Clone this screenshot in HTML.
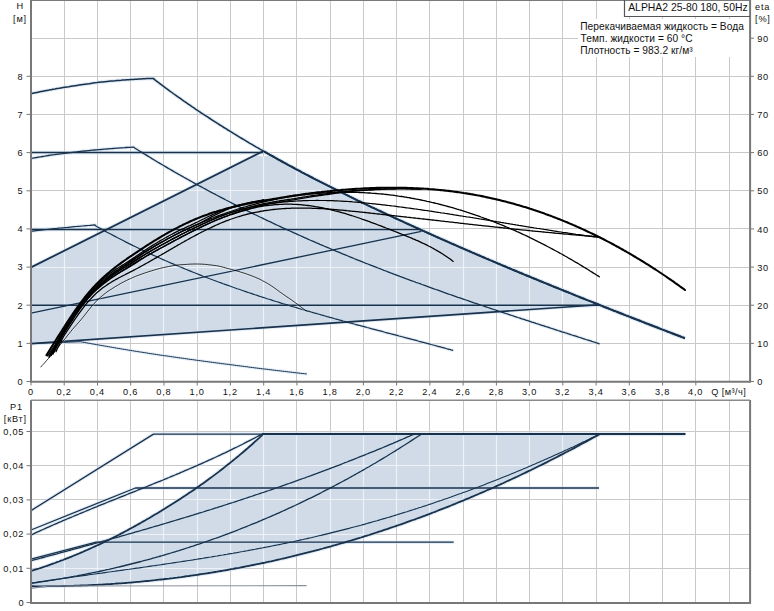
<!DOCTYPE html>
<html><head><meta charset="utf-8"><style>
html,body{margin:0;padding:0;background:#fff;width:774px;height:611px;overflow:hidden;}
body{position:relative;font-family:"Liberation Sans",sans-serif;}
text{font-family:"Liberation Sans",sans-serif;}
</style></head><body>
<svg width="774" height="611" viewBox="0 0 774 611" style="position:absolute;left:0;top:0">
<defs>
<clipPath id="cu"><path d="M31 267.6 L256 155.6 L263.3 156.6 L270 155.4 L273.9 157 L275.9 158.2 L277.9 159.3 L279.9 160.4 L281.9 161.5 L283.9 162.6 L285.9 163.7 L287.9 164.8 L289.9 165.8 L291.9 166.9 L293.9 168 L295.9 169.1 L297.9 170.1 L299.9 171.2 L301.9 172.3 L303.9 173.3 L305.9 174.4 L307.9 175.4 L309.9 176.5 L311.9 177.5 L313.9 178.6 L315.9 179.6 L317.9 180.6 L319.9 181.7 L321.9 182.7 L323.9 183.7 L325.9 184.7 L327.9 185.7 L329.9 186.7 L331.9 187.7 L333.9 188.7 L335.9 189.7 L337.9 190.7 L339.9 191.7 L341.9 192.7 L343.9 193.7 L345.9 194.7 L347.9 195.7 L349.9 196.7 L351.9 197.6 L353.9 198.6 L355.9 199.6 L357.9 200.6 L359.9 201.5 L361.9 202.5 L363.9 203.4 L365.9 204.4 L367.9 205.4 L369.9 206.3 L371.9 207.3 L373.9 208.2 L375.9 209.1 L377.9 210.1 L379.9 211 L381.9 212 L383.9 212.9 L385.9 213.8 L387.9 214.8 L389.9 215.7 L391.9 216.6 L393.9 217.6 L395.9 218.5 L397.9 219.4 L399.9 220.3 L401.9 221.2 L403.9 222.2 L405.9 223.1 L407.9 224 L409.9 224.9 L411.9 225.8 L413.9 226.7 L415.9 227.6 L417.9 228.5 L419.9 229.4 L421.9 230.3 L423.9 231.2 L425.9 232.1 L427.9 233 L429.9 233.9 L431.9 234.8 L433.9 235.7 L435.9 236.6 L437.9 237.5 L439.9 238.4 L441.9 239.3 L443.9 240.1 L445.9 241 L447.9 241.9 L449.9 242.8 L451.9 243.7 L453.9 244.5 L455.9 245.4 L457.9 246.3 L459.9 247.2 L461.9 248 L463.9 248.9 L465.9 249.8 L467.9 250.6 L469.9 251.5 L471.9 252.4 L473.9 253.2 L475.9 254.1 L477.9 255 L479.9 255.8 L481.9 256.7 L483.9 257.5 L485.9 258.4 L487.9 259.2 L489.9 260.1 L491.9 260.9 L493.9 261.8 L495.9 262.6 L497.9 263.5 L499.9 264.3 L501.9 265.2 L503.9 266 L505.9 266.8 L507.9 267.7 L509.9 268.5 L511.9 269.4 L513.9 270.2 L515.9 271 L517.9 271.9 L519.9 272.7 L521.9 273.5 L523.9 274.4 L525.9 275.2 L527.9 276 L529.9 276.8 L531.9 277.7 L533.9 278.5 L535.9 279.3 L537.9 280.1 L539.9 281 L541.9 281.8 L543.9 282.6 L545.9 283.4 L547.9 284.2 L549.9 285 L551.9 285.9 L553.9 286.7 L555.9 287.5 L557.9 288.3 L559.9 289.1 L561.9 289.9 L563.9 290.7 L565.9 291.5 L567.9 292.3 L569.9 293.1 L571.9 293.9 L573.9 294.8 L575.9 295.6 L577.9 296.4 L579.9 297.2 L581.9 298 L583.9 298.8 L585.9 299.6 L587.9 300.4 L589.9 301.1 L591.9 301.9 L593.9 302.7 L595.9 303.5 L597.9 304.3 L31 343.6 Z"/></clipPath>
<clipPath id="cl"><path d="M31 571 L33 570.4 L35 569.7 L37 569.1 L39 568.5 L41 567.8 L43 567.2 L45 566.5 L47 565.8 L49 565.1 L51 564.4 L53 563.7 L55 563 L57 562.2 L59 561.5 L61 560.7 L63 560 L65 559.2 L67 558.4 L69 557.6 L71 556.8 L73 556 L75 555.2 L77 554.3 L79 553.5 L81 552.6 L83 551.8 L85 550.9 L87 550 L89 549.1 L91 548.2 L93 547.3 L95 546.4 L97 545.5 L99 544.6 L101 543.6 L103 542.7 L105 541.7 L107 540.7 L109 539.7 L111 538.7 L113 537.7 L115 536.7 L117 535.7 L119 534.7 L121 533.6 L123 532.6 L125 531.5 L127 530.5 L129 529.4 L131 528.3 L133 527.2 L135 526.1 L137 525 L139 523.9 L141 522.8 L143 521.6 L145 520.5 L147 519.3 L149 518.2 L151 517 L153 515.8 L155 514.6 L157 513.4 L159 512.2 L161 511 L163 509.8 L165 508.6 L167 507.3 L169 506.1 L171 504.8 L173 503.6 L175 502.3 L177 501 L179 499.7 L181 498.4 L183 497.1 L185 495.8 L187 494.4 L189 493.1 L191 491.8 L193 490.4 L195 489 L197 487.6 L199 486.2 L201 484.8 L203 483.4 L205 482 L207 480.5 L209 479 L211 477.6 L213 476.1 L215 474.6 L217 473.1 L219 471.6 L221 470 L223 468.5 L225 466.9 L227 465.3 L229 463.7 L231 462.1 L233 460.5 L235 458.9 L237 457.2 L239 455.6 L241 453.9 L243 452.2 L245 450.5 L247 448.8 L249 447 L251 445.3 L253 443.5 L255 441.7 L257 439.9 L259 438.1 L261 436.2 L262.5 434.8 L599.5 434.5 L599.5 434.2 L599 434.5 L597 435.6 L595 436.7 L593 437.8 L591 438.9 L589 440 L587 441.1 L585 442.2 L583 443.3 L581 444.3 L579 445.4 L577 446.5 L575 447.6 L573 448.6 L571 449.7 L569 450.7 L567 451.8 L565 452.8 L563 453.9 L561 454.9 L559 455.9 L557 457 L555 458 L553 459 L551 460 L549 461 L547 462.1 L545 463.1 L543 464.1 L541 465.1 L539 466 L537 467 L535 468 L533 469 L531 470 L529 470.9 L527 471.9 L525 472.9 L523 473.8 L521 474.8 L519 475.7 L517 476.7 L515 477.6 L513 478.5 L511 479.5 L509 480.4 L507 481.3 L505 482.2 L503 483.2 L501 484.1 L499 485 L497 485.9 L495 486.8 L493 487.7 L491 488.6 L489 489.4 L487 490.3 L485 491.2 L483 492.1 L481 492.9 L479 493.8 L477 494.7 L475 495.5 L473 496.4 L471 497.2 L469 498.1 L467 498.9 L465 499.7 L463 500.6 L461 501.4 L459 502.2 L457 503 L455 503.9 L453 504.7 L451 505.5 L449 506.3 L447 507.1 L445 507.9 L443 508.6 L441 509.4 L439 510.2 L437 511 L435 511.8 L433 512.5 L431 513.3 L429 514.1 L427 514.8 L425 515.6 L423 516.3 L421 517.1 L419 517.8 L417 518.5 L415 519.3 L413 520 L411 520.7 L409 521.4 L407 522.1 L405 522.9 L403 523.6 L401 524.3 L399 525 L397 525.7 L395 526.4 L393 527 L391 527.7 L389 528.4 L387 529.1 L385 529.7 L383 530.4 L381 531.1 L379 531.7 L377 532.4 L375 533 L373 533.7 L371 534.3 L369 535 L367 535.6 L365 536.2 L363 536.8 L361 537.5 L359 538.1 L357 538.7 L355 539.3 L353 539.9 L351 540.5 L349 541.1 L347 541.7 L345 542.3 L343 542.9 L341 543.4 L339 544 L337 544.6 L335 545.2 L333 545.7 L331 546.3 L329 546.8 L327 547.4 L325 547.9 L323 548.5 L321 549 L319 549.6 L317 550.1 L315 550.6 L313 551.2 L311 551.7 L309 552.2 L307 552.7 L305 553.2 L303 553.7 L301 554.2 L299 554.7 L297 555.2 L295 555.7 L293 556.2 L291 556.7 L289 557.1 L287 557.6 L285 558.1 L283 558.5 L281 559 L279 559.5 L277 559.9 L275 560.4 L273 560.8 L271 561.3 L269 561.7 L267 562.1 L265 562.6 L263 563 L261 563.4 L259 563.8 L257 564.2 L255 564.6 L253 565 L251 565.4 L249 565.8 L247 566.2 L245 566.6 L243 567 L241 567.4 L239 567.8 L237 568.1 L235 568.5 L233 568.9 L231 569.2 L229 569.6 L227 570 L225 570.3 L223 570.7 L221 571 L219 571.3 L217 571.7 L215 572 L213 572.3 L211 572.7 L209 573 L207 573.3 L205 573.6 L203 573.9 L201 574.2 L199 574.5 L197 574.8 L195 575.1 L193 575.4 L191 575.7 L189 576 L187 576.2 L185 576.5 L183 576.8 L181 577.1 L179 577.3 L177 577.6 L175 577.8 L173 578.1 L171 578.3 L169 578.6 L167 578.8 L165 579 L163 579.3 L161 579.5 L159 579.7 L157 579.9 L155 580.2 L153 580.4 L151 580.6 L149 580.8 L147 581 L145 581.2 L143 581.4 L141 581.6 L139 581.8 L137 581.9 L135 582.1 L133 582.3 L131 582.5 L129 582.6 L127 582.8 L125 583 L123 583.1 L121 583.3 L119 583.4 L117 583.5 L115 583.7 L113 583.8 L111 584 L109 584.1 L107 584.2 L105 584.3 L103 584.5 L101 584.6 L99 584.7 L97 584.8 L95 584.9 L93 585 L91 585.1 L89 585.2 L87 585.3 L85 585.3 L83 585.4 L81 585.5 L79 585.6 L77 585.6 L75 585.7 L73 585.8 L71 585.8 L69 585.9 L67 585.9 L65 586 L63 586 L61 586.1 L59 586.1 L57 586.1 L55 586.2 L53 586.2 L51 586.2 L49 586.2 L47 586.2 L45 586.3 L43 586.3 L41 586.3 L39 586.3 L37 586.3 L35 586.3 L33 586.2 L31 586.2 Z"/></clipPath>
</defs>
<rect width="774" height="611" fill="#fff"/>
<path d="M64.5 1V381 M97.5 1V381 M130.5 1V381 M163.5 1V381 M197.5 1V381 M230.5 1V381 M263.5 1V381 M296.5 1V381 M330.5 1V381 M363.5 1V381 M396.5 1V381 M429.5 1V381 M463.5 1V381 M496.5 1V381 M529.5 1V381 M562.5 1V381 M596.5 1V381 M629.5 1V381 M662.5 1V381 M695.5 1V381 M729.5 1V381 M32 343.5H749 M32 305.5H749 M32 267.5H749 M32 228.5H749 M32 190.5H749 M32 152.5H749 M32 114.5H749 M32 76.5H749 M32 38.5H749 M64.5 401V602 M97.5 401V602 M130.5 401V602 M163.5 401V602 M197.5 401V602 M230.5 401V602 M263.5 401V602 M296.5 401V602 M330.5 401V602 M363.5 401V602 M396.5 401V602 M429.5 401V602 M463.5 401V602 M496.5 401V602 M529.5 401V602 M562.5 401V602 M596.5 401V602 M629.5 401V602 M662.5 401V602 M695.5 401V602 M729.5 401V602 M32 568.5H749 M32 534.5H749 M32 499.5H749 M32 465.5H749 M32 431.5H749" stroke="#c9c9c9" stroke-width="1" fill="none"/>
<path d="M31 267.6 L256 155.6 L263.3 156.6 L270 155.4 L273.9 157 L275.9 158.2 L277.9 159.3 L279.9 160.4 L281.9 161.5 L283.9 162.6 L285.9 163.7 L287.9 164.8 L289.9 165.8 L291.9 166.9 L293.9 168 L295.9 169.1 L297.9 170.1 L299.9 171.2 L301.9 172.3 L303.9 173.3 L305.9 174.4 L307.9 175.4 L309.9 176.5 L311.9 177.5 L313.9 178.6 L315.9 179.6 L317.9 180.6 L319.9 181.7 L321.9 182.7 L323.9 183.7 L325.9 184.7 L327.9 185.7 L329.9 186.7 L331.9 187.7 L333.9 188.7 L335.9 189.7 L337.9 190.7 L339.9 191.7 L341.9 192.7 L343.9 193.7 L345.9 194.7 L347.9 195.7 L349.9 196.7 L351.9 197.6 L353.9 198.6 L355.9 199.6 L357.9 200.6 L359.9 201.5 L361.9 202.5 L363.9 203.4 L365.9 204.4 L367.9 205.4 L369.9 206.3 L371.9 207.3 L373.9 208.2 L375.9 209.1 L377.9 210.1 L379.9 211 L381.9 212 L383.9 212.9 L385.9 213.8 L387.9 214.8 L389.9 215.7 L391.9 216.6 L393.9 217.6 L395.9 218.5 L397.9 219.4 L399.9 220.3 L401.9 221.2 L403.9 222.2 L405.9 223.1 L407.9 224 L409.9 224.9 L411.9 225.8 L413.9 226.7 L415.9 227.6 L417.9 228.5 L419.9 229.4 L421.9 230.3 L423.9 231.2 L425.9 232.1 L427.9 233 L429.9 233.9 L431.9 234.8 L433.9 235.7 L435.9 236.6 L437.9 237.5 L439.9 238.4 L441.9 239.3 L443.9 240.1 L445.9 241 L447.9 241.9 L449.9 242.8 L451.9 243.7 L453.9 244.5 L455.9 245.4 L457.9 246.3 L459.9 247.2 L461.9 248 L463.9 248.9 L465.9 249.8 L467.9 250.6 L469.9 251.5 L471.9 252.4 L473.9 253.2 L475.9 254.1 L477.9 255 L479.9 255.8 L481.9 256.7 L483.9 257.5 L485.9 258.4 L487.9 259.2 L489.9 260.1 L491.9 260.9 L493.9 261.8 L495.9 262.6 L497.9 263.5 L499.9 264.3 L501.9 265.2 L503.9 266 L505.9 266.8 L507.9 267.7 L509.9 268.5 L511.9 269.4 L513.9 270.2 L515.9 271 L517.9 271.9 L519.9 272.7 L521.9 273.5 L523.9 274.4 L525.9 275.2 L527.9 276 L529.9 276.8 L531.9 277.7 L533.9 278.5 L535.9 279.3 L537.9 280.1 L539.9 281 L541.9 281.8 L543.9 282.6 L545.9 283.4 L547.9 284.2 L549.9 285 L551.9 285.9 L553.9 286.7 L555.9 287.5 L557.9 288.3 L559.9 289.1 L561.9 289.9 L563.9 290.7 L565.9 291.5 L567.9 292.3 L569.9 293.1 L571.9 293.9 L573.9 294.8 L575.9 295.6 L577.9 296.4 L579.9 297.2 L581.9 298 L583.9 298.8 L585.9 299.6 L587.9 300.4 L589.9 301.1 L591.9 301.9 L593.9 302.7 L595.9 303.5 L597.9 304.3 L31 343.6 Z" fill="#d0dbe7"/>
<path d="M31 571 L33 570.4 L35 569.7 L37 569.1 L39 568.5 L41 567.8 L43 567.2 L45 566.5 L47 565.8 L49 565.1 L51 564.4 L53 563.7 L55 563 L57 562.2 L59 561.5 L61 560.7 L63 560 L65 559.2 L67 558.4 L69 557.6 L71 556.8 L73 556 L75 555.2 L77 554.3 L79 553.5 L81 552.6 L83 551.8 L85 550.9 L87 550 L89 549.1 L91 548.2 L93 547.3 L95 546.4 L97 545.5 L99 544.6 L101 543.6 L103 542.7 L105 541.7 L107 540.7 L109 539.7 L111 538.7 L113 537.7 L115 536.7 L117 535.7 L119 534.7 L121 533.6 L123 532.6 L125 531.5 L127 530.5 L129 529.4 L131 528.3 L133 527.2 L135 526.1 L137 525 L139 523.9 L141 522.8 L143 521.6 L145 520.5 L147 519.3 L149 518.2 L151 517 L153 515.8 L155 514.6 L157 513.4 L159 512.2 L161 511 L163 509.8 L165 508.6 L167 507.3 L169 506.1 L171 504.8 L173 503.6 L175 502.3 L177 501 L179 499.7 L181 498.4 L183 497.1 L185 495.8 L187 494.4 L189 493.1 L191 491.8 L193 490.4 L195 489 L197 487.6 L199 486.2 L201 484.8 L203 483.4 L205 482 L207 480.5 L209 479 L211 477.6 L213 476.1 L215 474.6 L217 473.1 L219 471.6 L221 470 L223 468.5 L225 466.9 L227 465.3 L229 463.7 L231 462.1 L233 460.5 L235 458.9 L237 457.2 L239 455.6 L241 453.9 L243 452.2 L245 450.5 L247 448.8 L249 447 L251 445.3 L253 443.5 L255 441.7 L257 439.9 L259 438.1 L261 436.2 L262.5 434.8 L599.5 434.5 L599.5 434.2 L599 434.5 L597 435.6 L595 436.7 L593 437.8 L591 438.9 L589 440 L587 441.1 L585 442.2 L583 443.3 L581 444.3 L579 445.4 L577 446.5 L575 447.6 L573 448.6 L571 449.7 L569 450.7 L567 451.8 L565 452.8 L563 453.9 L561 454.9 L559 455.9 L557 457 L555 458 L553 459 L551 460 L549 461 L547 462.1 L545 463.1 L543 464.1 L541 465.1 L539 466 L537 467 L535 468 L533 469 L531 470 L529 470.9 L527 471.9 L525 472.9 L523 473.8 L521 474.8 L519 475.7 L517 476.7 L515 477.6 L513 478.5 L511 479.5 L509 480.4 L507 481.3 L505 482.2 L503 483.2 L501 484.1 L499 485 L497 485.9 L495 486.8 L493 487.7 L491 488.6 L489 489.4 L487 490.3 L485 491.2 L483 492.1 L481 492.9 L479 493.8 L477 494.7 L475 495.5 L473 496.4 L471 497.2 L469 498.1 L467 498.9 L465 499.7 L463 500.6 L461 501.4 L459 502.2 L457 503 L455 503.9 L453 504.7 L451 505.5 L449 506.3 L447 507.1 L445 507.9 L443 508.6 L441 509.4 L439 510.2 L437 511 L435 511.8 L433 512.5 L431 513.3 L429 514.1 L427 514.8 L425 515.6 L423 516.3 L421 517.1 L419 517.8 L417 518.5 L415 519.3 L413 520 L411 520.7 L409 521.4 L407 522.1 L405 522.9 L403 523.6 L401 524.3 L399 525 L397 525.7 L395 526.4 L393 527 L391 527.7 L389 528.4 L387 529.1 L385 529.7 L383 530.4 L381 531.1 L379 531.7 L377 532.4 L375 533 L373 533.7 L371 534.3 L369 535 L367 535.6 L365 536.2 L363 536.8 L361 537.5 L359 538.1 L357 538.7 L355 539.3 L353 539.9 L351 540.5 L349 541.1 L347 541.7 L345 542.3 L343 542.9 L341 543.4 L339 544 L337 544.6 L335 545.2 L333 545.7 L331 546.3 L329 546.8 L327 547.4 L325 547.9 L323 548.5 L321 549 L319 549.6 L317 550.1 L315 550.6 L313 551.2 L311 551.7 L309 552.2 L307 552.7 L305 553.2 L303 553.7 L301 554.2 L299 554.7 L297 555.2 L295 555.7 L293 556.2 L291 556.7 L289 557.1 L287 557.6 L285 558.1 L283 558.5 L281 559 L279 559.5 L277 559.9 L275 560.4 L273 560.8 L271 561.3 L269 561.7 L267 562.1 L265 562.6 L263 563 L261 563.4 L259 563.8 L257 564.2 L255 564.6 L253 565 L251 565.4 L249 565.8 L247 566.2 L245 566.6 L243 567 L241 567.4 L239 567.8 L237 568.1 L235 568.5 L233 568.9 L231 569.2 L229 569.6 L227 570 L225 570.3 L223 570.7 L221 571 L219 571.3 L217 571.7 L215 572 L213 572.3 L211 572.7 L209 573 L207 573.3 L205 573.6 L203 573.9 L201 574.2 L199 574.5 L197 574.8 L195 575.1 L193 575.4 L191 575.7 L189 576 L187 576.2 L185 576.5 L183 576.8 L181 577.1 L179 577.3 L177 577.6 L175 577.8 L173 578.1 L171 578.3 L169 578.6 L167 578.8 L165 579 L163 579.3 L161 579.5 L159 579.7 L157 579.9 L155 580.2 L153 580.4 L151 580.6 L149 580.8 L147 581 L145 581.2 L143 581.4 L141 581.6 L139 581.8 L137 581.9 L135 582.1 L133 582.3 L131 582.5 L129 582.6 L127 582.8 L125 583 L123 583.1 L121 583.3 L119 583.4 L117 583.5 L115 583.7 L113 583.8 L111 584 L109 584.1 L107 584.2 L105 584.3 L103 584.5 L101 584.6 L99 584.7 L97 584.8 L95 584.9 L93 585 L91 585.1 L89 585.2 L87 585.3 L85 585.3 L83 585.4 L81 585.5 L79 585.6 L77 585.6 L75 585.7 L73 585.8 L71 585.8 L69 585.9 L67 585.9 L65 586 L63 586 L61 586.1 L59 586.1 L57 586.1 L55 586.2 L53 586.2 L51 586.2 L49 586.2 L47 586.2 L45 586.3 L43 586.3 L41 586.3 L39 586.3 L37 586.3 L35 586.3 L33 586.2 L31 586.2 Z" fill="#d0dbe7"/>
<g clip-path="url(#cu)"><path d="M64.5 1V381 M97.5 1V381 M130.5 1V381 M163.5 1V381 M197.5 1V381 M230.5 1V381 M263.5 1V381 M296.5 1V381 M330.5 1V381 M363.5 1V381 M396.5 1V381 M429.5 1V381 M463.5 1V381 M496.5 1V381 M529.5 1V381 M562.5 1V381 M596.5 1V381 M629.5 1V381 M662.5 1V381 M695.5 1V381 M729.5 1V381 M32 343.5H749 M32 305.5H749 M32 267.5H749 M32 228.5H749 M32 190.5H749 M32 152.5H749 M32 114.5H749 M32 76.5H749 M32 38.5H749" stroke="#eef2f7" stroke-width="1.2" fill="none"/></g>
<g clip-path="url(#cl)"><path d="M64.5 401V602 M97.5 401V602 M130.5 401V602 M163.5 401V602 M197.5 401V602 M230.5 401V602 M263.5 401V602 M296.5 401V602 M330.5 401V602 M363.5 401V602 M396.5 401V602 M429.5 401V602 M463.5 401V602 M496.5 401V602 M529.5 401V602 M562.5 401V602 M596.5 401V602 M629.5 401V602 M662.5 401V602 M695.5 401V602 M729.5 401V602 M32 568.5H749 M32 534.5H749 M32 499.5H749 M32 465.5H749 M32 431.5H749" stroke="#eef2f7" stroke-width="1.2" fill="none"/></g>
<rect x="578" y="19" width="171" height="38" fill="#fff"/>
<rect x="625" y="1" width="124" height="15" fill="#fff"/>
<path d="M31 152.6 L263 152.6" stroke="#c9def2" stroke-width="3.7" fill="none" stroke-linejoin="round" stroke-opacity="0.55"/>
<path d="M31 229.4 L420.5 229.4" stroke="#c9def2" stroke-width="3.7" fill="none" stroke-linejoin="round" stroke-opacity="0.55"/>
<path d="M31 305.3 L599.6 305.3" stroke="#c9def2" stroke-width="3.7" fill="none" stroke-linejoin="round" stroke-opacity="0.55"/>
<path d="M31 267.4 L263 151.2" stroke="#c9def2" stroke-width="4.0" fill="none" stroke-linejoin="round" stroke-opacity="0.55"/>
<path d="M31 313.2 L421.4 231.4" stroke="#c9def2" stroke-width="3.5" fill="none" stroke-linejoin="round" stroke-opacity="0.55"/>
<path d="M31 343.6 L599.6 304.7" stroke="#c9def2" stroke-width="3.8000000000000003" fill="none" stroke-linejoin="round" stroke-opacity="0.55"/>
<path d="M31 93.6 L33 93.2 L35 92.8 L37 92.4 L39 92 L41 91.6 L43 91.2 L45 90.8 L47 90.4 L49 90.1 L51 89.7 L53 89.3 L55 89 L57 88.6 L59 88.3 L61 87.9 L63 87.6 L65 87.3 L67 87 L69 86.7 L71 86.3 L73 86 L75 85.7 L77 85.4 L79 85.1 L81 84.8 L83 84.5 L85 84.2 L87 83.9 L89 83.7 L91 83.4 L93 83.1 L95 82.8 L97 82.6 L99 82.3 L101 82.1 L103 81.9 L105 81.7 L107 81.5 L109 81.3 L111 81.1 L113 80.9 L115 80.8 L117 80.6 L119 80.4 L121 80.3 L123 80.1 L125 80 L127 79.8 L129 79.7 L131 79.5 L133 79.4 L135 79.3 L137 79.2 L139 79 L141 78.9 L143 78.8 L145 78.7 L147 78.6 L149 78.6 L151 78.5 L153 78.4 L153.9 78.4 L153.9 79.2 L155.9 80.7 L157.9 82.2 L159.9 83.7 L161.9 85.2 L163.9 86.7 L165.9 88.2 L167.9 89.6 L169.9 91.1 L171.9 92.5 L173.9 94 L175.9 95.4 L177.9 96.8 L179.9 98.2 L181.9 99.7 L183.9 101.1 L185.9 102.4 L187.9 103.8 L189.9 105.2 L191.9 106.6 L193.9 107.9 L195.9 109.3 L197.9 110.6 L199.9 112 L201.9 113.3 L203.9 114.6 L205.9 115.9 L207.9 117.2 L209.9 118.5 L211.9 119.8 L213.9 121.1 L215.9 122.4 L217.9 123.7 L219.9 125 L221.9 126.2 L223.9 127.5 L225.9 128.7 L227.9 130 L229.9 131.2 L231.9 132.4 L233.9 133.7 L235.9 134.9 L237.9 136.1 L239.9 137.3 L241.9 138.5 L243.9 139.7 L245.9 140.9 L247.9 142.1 L249.9 143.3 L251.9 144.4 L253.9 145.6 L255.9 146.8 L257.9 147.9 L259.9 149.1 L261.9 150.2 L263.9 151.4 L265.9 152.5 L267.9 153.7 L269.9 154.8 L271.9 155.9 L273.9 157 L275.9 158.2 L277.9 159.3 L279.9 160.4 L281.9 161.5 L283.9 162.6 L285.9 163.7 L287.9 164.8 L289.9 165.8 L291.9 166.9 L293.9 168 L295.9 169.1 L297.9 170.1 L299.9 171.2 L301.9 172.3 L303.9 173.3 L305.9 174.4 L307.9 175.4 L309.9 176.5 L311.9 177.5 L313.9 178.6 L315.9 179.6 L317.9 180.6 L319.9 181.7 L321.9 182.7 L323.9 183.7 L325.9 184.7 L327.9 185.7 L329.9 186.7 L331.9 187.7 L333.9 188.7 L335.9 189.7 L337.9 190.7 L339.9 191.7 L341.9 192.7 L343.9 193.7 L345.9 194.7 L347.9 195.7 L349.9 196.7 L351.9 197.6 L353.9 198.6 L355.9 199.6 L357.9 200.6 L359.9 201.5 L361.9 202.5 L363.9 203.4 L365.9 204.4 L367.9 205.4 L369.9 206.3 L371.9 207.3 L373.9 208.2 L375.9 209.1 L377.9 210.1 L379.9 211 L381.9 212 L383.9 212.9 L385.9 213.8 L387.9 214.8 L389.9 215.7 L391.9 216.6 L393.9 217.6 L395.9 218.5 L397.9 219.4 L399.9 220.3 L401.9 221.2 L403.9 222.2 L405.9 223.1 L407.9 224 L409.9 224.9 L411.9 225.8 L413.9 226.7 L415.9 227.6 L417.9 228.5 L419.9 229.4 L421.9 230.3 L423.9 231.2 L425.9 232.1 L427.9 233 L429.9 233.9 L431.9 234.8 L433.9 235.7 L435.9 236.6 L437.9 237.5 L439.9 238.4 L441.9 239.3 L443.9 240.1 L445.9 241 L447.9 241.9 L449.9 242.8 L451.9 243.7 L453.9 244.5 L455.9 245.4 L457.9 246.3 L459.9 247.2 L461.9 248 L463.9 248.9 L465.9 249.8 L467.9 250.6 L469.9 251.5 L471.9 252.4 L473.9 253.2 L475.9 254.1 L477.9 255 L479.9 255.8 L481.9 256.7 L483.9 257.5 L485.9 258.4 L487.9 259.2 L489.9 260.1 L491.9 260.9 L493.9 261.8 L495.9 262.6 L497.9 263.5 L499.9 264.3 L501.9 265.2 L503.9 266 L505.9 266.8 L507.9 267.7 L509.9 268.5 L511.9 269.4 L513.9 270.2 L515.9 271 L517.9 271.9 L519.9 272.7 L521.9 273.5 L523.9 274.4 L525.9 275.2 L527.9 276 L529.9 276.8 L531.9 277.7 L533.9 278.5 L535.9 279.3 L537.9 280.1 L539.9 281 L541.9 281.8 L543.9 282.6 L545.9 283.4 L547.9 284.2 L549.9 285 L551.9 285.9 L553.9 286.7 L555.9 287.5 L557.9 288.3 L559.9 289.1 L561.9 289.9 L563.9 290.7 L565.9 291.5 L567.9 292.3 L569.9 293.1 L571.9 293.9 L573.9 294.8 L575.9 295.6 L577.9 296.4 L579.9 297.2 L581.9 298 L583.9 298.8 L585.9 299.6 L587.9 300.4 L589.9 301.1 L591.9 301.9 L593.9 302.7 L595.9 303.5 L597.9 304.3 L599.9 305.1 L601.9 305.9 L603.9 306.7 L605.9 307.5 L607.9 308.3 L609.9 309.1 L611.9 309.9 L613.9 310.7 L615.9 311.4 L617.9 312.2 L619.9 313 L621.9 313.8 L623.9 314.6 L625.9 315.4 L627.9 316.1 L629.9 316.9 L631.9 317.7 L633.9 318.5 L635.9 319.3 L637.9 320 L639.9 320.8 L641.9 321.6 L643.9 322.4 L645.9 323.2 L647.9 323.9 L649.9 324.7 L651.9 325.5 L653.9 326.3 L655.9 327 L657.9 327.8 L659.9 328.6 L661.9 329.4 L663.9 330.1 L665.9 330.9 L667.9 331.7 L669.9 332.4 L671.9 333.2 L673.9 334 L675.9 334.8 L677.9 335.5 L679.9 336.3 L681.9 337.1 L683.9 337.8 L684.9 338.2" stroke="#c9def2" stroke-width="3.7" fill="none" stroke-linejoin="round" stroke-opacity="0.55"/>
<path d="M263.9 151.4 L265.9 152.5 L267.9 153.7 L269.9 154.8 L271.9 155.9 L273.9 157 L275.9 158.2 L277.9 159.3 L279.9 160.4 L281.9 161.5 L283.9 162.6 L285.9 163.7 L287.9 164.8 L289.9 165.8 L291.9 166.9 L293.9 168 L295.9 169.1 L297.9 170.1 L299.9 171.2 L301.9 172.3 L303.9 173.3 L305.9 174.4 L307.9 175.4 L309.9 176.5 L311.9 177.5 L313.9 178.6 L315.9 179.6 L317.9 180.6 L319.9 181.7 L321.9 182.7 L323.9 183.7 L325.9 184.7 L327.9 185.7 L329.9 186.7 L331.9 187.7 L333.9 188.7 L335.9 189.7 L337.9 190.7 L339.9 191.7 L341.9 192.7 L343.9 193.7 L345.9 194.7 L347.9 195.7 L349.9 196.7 L351.9 197.6 L353.9 198.6 L355.9 199.6 L357.9 200.6 L359.9 201.5 L361.9 202.5 L363.9 203.4 L365.9 204.4 L367.9 205.4 L369.9 206.3 L371.9 207.3 L373.9 208.2 L375.9 209.1 L377.9 210.1 L379.9 211 L381.9 212 L383.9 212.9 L385.9 213.8 L387.9 214.8 L389.9 215.7 L391.9 216.6 L393.9 217.6 L395.9 218.5 L397.9 219.4 L399.9 220.3 L401.9 221.2 L403.9 222.2 L405.9 223.1 L407.9 224 L409.9 224.9 L411.9 225.8 L413.9 226.7 L415.9 227.6 L417.9 228.5 L419.9 229.4 L421.9 230.3 L423.9 231.2 L425.9 232.1 L427.9 233 L429.9 233.9 L431.9 234.8 L433.9 235.7 L435.9 236.6 L437.9 237.5 L439.9 238.4 L441.9 239.3 L443.9 240.1 L445.9 241 L447.9 241.9 L449.9 242.8 L451.9 243.7 L453.9 244.5 L455.9 245.4 L457.9 246.3 L459.9 247.2 L461.9 248 L463.9 248.9 L465.9 249.8 L467.9 250.6 L469.9 251.5 L471.9 252.4 L473.9 253.2 L475.9 254.1 L477.9 255 L479.9 255.8 L481.9 256.7 L483.9 257.5 L485.9 258.4 L487.9 259.2 L489.9 260.1 L491.9 260.9 L493.9 261.8 L495.9 262.6 L497.9 263.5 L499.9 264.3 L501.9 265.2 L503.9 266 L505.9 266.8 L507.9 267.7 L509.9 268.5 L511.9 269.4 L513.9 270.2 L515.9 271 L517.9 271.9 L519.9 272.7 L521.9 273.5 L523.9 274.4 L525.9 275.2 L527.9 276 L529.9 276.8 L531.9 277.7 L533.9 278.5 L535.9 279.3 L537.9 280.1 L539.9 281 L541.9 281.8 L543.9 282.6 L545.9 283.4 L547.9 284.2 L549.9 285 L551.9 285.9 L553.9 286.7 L555.9 287.5 L557.9 288.3 L559.9 289.1 L561.9 289.9 L563.9 290.7 L565.9 291.5 L567.9 292.3 L569.9 293.1 L571.9 293.9 L573.9 294.8 L575.9 295.6 L577.9 296.4 L579.9 297.2 L581.9 298 L583.9 298.8 L585.9 299.6 L587.9 300.4 L589.9 301.1 L591.9 301.9 L593.9 302.7 L595.9 303.5 L597.9 304.3 L599.9 305.1 L601.9 305.9 L603.9 306.7 L605.9 307.5 L607.9 308.3 L609.9 309.1 L611.9 309.9 L613.9 310.7 L615.9 311.4 L617.9 312.2 L619.9 313 L621.9 313.8 L623.9 314.6 L625.9 315.4 L627.9 316.1 L629.9 316.9 L631.9 317.7 L633.9 318.5 L635.9 319.3 L637.9 320 L639.9 320.8 L641.9 321.6 L643.9 322.4 L645.9 323.2 L647.9 323.9 L649.9 324.7 L651.9 325.5 L653.9 326.3 L655.9 327 L657.9 327.8 L659.9 328.6 L661.9 329.4 L663.9 330.1 L665.9 330.9 L667.9 331.7 L669.9 332.4 L671.9 333.2 L673.9 334 L675.9 334.8 L677.9 335.5 L679.9 336.3 L681.9 337.1 L683.9 337.8 L684.9 338.2" stroke="#c9def2" stroke-width="4.2" fill="none" stroke-linejoin="round" stroke-opacity="0.55"/>
<path d="M30.5 158.5 L32.5 158.2 L34.5 157.8 L36.5 157.5 L38.5 157.1 L40.5 156.8 L42.5 156.5 L44.5 156.2 L46.5 155.8 L48.5 155.5 L50.5 155.2 L52.5 154.9 L54.5 154.7 L56.5 154.4 L58.5 154.1 L60.5 153.8 L62.5 153.6 L64.5 153.3 L66.5 153.1 L68.5 152.8 L70.5 152.6 L72.5 152.3 L74.5 152.1 L76.5 151.9 L78.5 151.6 L80.5 151.4 L82.5 151.2 L84.5 151 L86.5 150.8 L88.5 150.6 L90.5 150.4 L92.5 150.2 L94.5 150 L96.5 149.8 L98.5 149.6 L100.5 149.5 L102.5 149.3 L104.5 149.1 L106.5 149 L108.5 148.8 L110.5 148.6 L112.5 148.5 L114.5 148.3 L116.5 148.2 L118.5 148.1 L120.5 147.9 L122.5 147.8 L124.5 147.7 L126.5 147.5 L128.5 147.4 L130.5 147.3 L132.5 147.2 L133.9 147.1 L133.9 147.5 L135.9 148.7 L137.9 150 L139.9 151.2 L141.9 152.4 L143.9 153.7 L145.9 154.9 L147.9 156.1 L149.9 157.3 L151.9 158.6 L153.9 159.8 L155.9 161 L157.9 162.2 L159.9 163.4 L161.9 164.5 L163.9 165.7 L165.9 166.9 L167.9 168.1 L169.9 169.2 L171.9 170.4 L173.9 171.6 L175.9 172.7 L177.9 173.9 L179.9 175 L181.9 176.1 L183.9 177.3 L185.9 178.4 L187.9 179.5 L189.9 180.6 L191.9 181.7 L193.9 182.9 L195.9 184 L197.9 185.1 L199.9 186.2 L201.9 187.2 L203.9 188.3 L205.9 189.4 L207.9 190.5 L209.9 191.6 L211.9 192.6 L213.9 193.7 L215.9 194.7 L217.9 195.8 L219.9 196.9 L221.9 197.9 L223.9 198.9 L225.9 200 L227.9 201 L229.9 202 L231.9 203.1 L233.9 204.1 L235.9 205.1 L237.9 206.1 L239.9 207.1 L241.9 208.1 L243.9 209.1 L245.9 210.1 L247.9 211.1 L249.9 212.1 L251.9 213.1 L253.9 214.1 L255.9 215 L257.9 216 L259.9 217 L261.9 217.9 L263.9 218.9 L265.9 219.8 L267.9 220.8 L269.9 221.7 L271.9 222.7 L273.9 223.6 L275.9 224.6 L277.9 225.5 L279.9 226.4 L281.9 227.4 L283.9 228.3 L285.9 229.2 L287.9 230.1 L289.9 231 L291.9 231.9 L293.9 232.8 L295.9 233.7 L297.9 234.6 L299.9 235.5 L301.9 236.4 L303.9 237.3 L305.9 238.2 L307.9 239.1 L309.9 240 L311.9 240.8 L313.9 241.7 L315.9 242.6 L317.9 243.4 L319.9 244.3 L321.9 245.1 L323.9 246 L325.9 246.9 L327.9 247.7 L329.9 248.5 L331.9 249.4 L333.9 250.2 L335.9 251.1 L337.9 251.9 L339.9 252.7 L341.9 253.6 L343.9 254.4 L345.9 255.2 L347.9 256 L349.9 256.8 L351.9 257.6 L353.9 258.5 L355.9 259.3 L357.9 260.1 L359.9 260.9 L361.9 261.7 L363.9 262.5 L365.9 263.3 L367.9 264 L369.9 264.8 L371.9 265.6 L373.9 266.4 L375.9 267.2 L377.9 268 L379.9 268.7 L381.9 269.5 L383.9 270.3 L385.9 271 L387.9 271.8 L389.9 272.6 L391.9 273.3 L393.9 274.1 L395.9 274.8 L397.9 275.6 L399.9 276.4 L401.9 277.1 L403.9 277.8 L405.9 278.6 L407.9 279.3 L409.9 280.1 L411.9 280.8 L413.9 281.5 L415.9 282.3 L417.9 283 L419.9 283.7 L421.9 284.5 L423.9 285.2 L425.9 285.9 L427.9 286.6 L429.9 287.4 L431.9 288.1 L433.9 288.8 L435.9 289.5 L437.9 290.2 L439.9 290.9 L441.9 291.6 L443.9 292.4 L445.9 293.1 L447.9 293.8 L449.9 294.5 L451.9 295.2 L453.9 295.9 L455.9 296.6 L457.9 297.3 L459.9 297.9 L461.9 298.6 L463.9 299.3 L465.9 300 L467.9 300.7 L469.9 301.4 L471.9 302.1 L473.9 302.8 L475.9 303.4 L477.9 304.1 L479.9 304.8 L481.9 305.5 L483.9 306.2 L485.9 306.8 L487.9 307.5 L489.9 308.2 L491.9 308.8 L493.9 309.5 L495.9 310.2 L497.9 310.9 L499.9 311.5 L501.9 312.2 L503.9 312.8 L505.9 313.5 L507.9 314.2 L509.9 314.8 L511.9 315.5 L513.9 316.2 L515.9 316.8 L517.9 317.5 L519.9 318.1 L521.9 318.8 L523.9 319.4 L525.9 320.1 L527.9 320.7 L529.9 321.4 L531.9 322.1 L533.9 322.7 L535.9 323.4 L537.9 324 L539.9 324.7 L541.9 325.3 L543.9 325.9 L545.9 326.6 L547.9 327.2 L549.9 327.9 L551.9 328.5 L553.9 329.2 L555.9 329.8 L557.9 330.5 L559.9 331.1 L561.9 331.8 L563.9 332.4 L565.9 333 L567.9 333.7 L569.9 334.3 L571.9 335 L573.9 335.6 L575.9 336.2 L577.9 336.9 L579.9 337.5 L581.9 338.2 L583.9 338.8 L585.9 339.5 L587.9 340.1 L589.9 340.7 L591.9 341.4 L593.9 342 L595.9 342.7 L597.9 343.3 L599.6 343.8" stroke="#c9def2" stroke-width="3.5" fill="none" stroke-linejoin="round" stroke-opacity="0.55"/>
<path d="M30.5 231.3 L32.5 231.1 L34.5 230.8 L36.5 230.6 L38.5 230.4 L40.5 230.2 L42.5 229.9 L44.5 229.7 L46.5 229.5 L48.5 229.3 L50.5 229.1 L52.5 228.9 L54.5 228.7 L56.5 228.5 L58.5 228.2 L60.5 228 L62.5 227.8 L64.5 227.7 L66.5 227.5 L68.5 227.3 L70.5 227.1 L72.5 226.9 L74.5 226.7 L76.5 226.5 L78.5 226.3 L80.5 226.2 L82.5 226 L84.5 225.8 L86.5 225.6 L88.5 225.5 L90.5 225.3 L92.5 225.1 L94.5 224.9 L95.1 224.9 L95.1 225.5 L97.1 226.7 L99.1 227.8 L101.1 228.9 L103.1 230 L105.1 231.1 L107.1 232.2 L109.1 233.2 L111.1 234.3 L113.1 235.4 L115.1 236.4 L117.1 237.5 L119.1 238.5 L121.1 239.5 L123.1 240.5 L125.1 241.6 L127.1 242.6 L129.1 243.6 L131.1 244.6 L133.1 245.6 L135.1 246.5 L137.1 247.5 L139.1 248.5 L141.1 249.4 L143.1 250.4 L145.1 251.3 L147.1 252.3 L149.1 253.2 L151.1 254.1 L153.1 255.1 L155.1 256 L157.1 256.9 L159.1 257.8 L161.1 258.7 L163.1 259.6 L165.1 260.5 L167.1 261.3 L169.1 262.2 L171.1 263.1 L173.1 263.9 L175.1 264.8 L177.1 265.6 L179.1 266.5 L181.1 267.3 L183.1 268.1 L185.1 269 L187.1 269.8 L189.1 270.6 L191.1 271.4 L193.1 272.2 L195.1 273 L197.1 273.8 L199.1 274.6 L201.1 275.4 L203.1 276.2 L205.1 276.9 L207.1 277.7 L209.1 278.5 L211.1 279.2 L213.1 280 L215.1 280.7 L217.1 281.5 L219.1 282.2 L221.1 282.9 L223.1 283.7 L225.1 284.4 L227.1 285.1 L229.1 285.8 L231.1 286.5 L233.1 287.3 L235.1 288 L237.1 288.7 L239.1 289.3 L241.1 290 L243.1 290.7 L245.1 291.4 L247.1 292.1 L249.1 292.8 L251.1 293.4 L253.1 294.1 L255.1 294.8 L257.1 295.4 L259.1 296.1 L261.1 296.7 L263.1 297.4 L265.1 298 L267.1 298.7 L269.1 299.3 L271.1 299.9 L273.1 300.6 L275.1 301.2 L277.1 301.8 L279.1 302.4 L281.1 303.1 L283.1 303.7 L285.1 304.3 L287.1 304.9 L289.1 305.5 L291.1 306.1 L293.1 306.7 L295.1 307.3 L297.1 307.9 L299.1 308.5 L301.1 309.1 L303.1 309.7 L305.1 310.3 L307.1 310.9 L309.1 311.4 L311.1 312 L313.1 312.6 L315.1 313.2 L317.1 313.7 L319.1 314.3 L321.1 314.9 L323.1 315.4 L325.1 316 L327.1 316.6 L329.1 317.1 L331.1 317.7 L333.1 318.2 L335.1 318.8 L337.1 319.3 L339.1 319.9 L341.1 320.4 L343.1 321 L345.1 321.5 L347.1 322.1 L349.1 322.6 L351.1 323.2 L353.1 323.7 L355.1 324.3 L357.1 324.8 L359.1 325.3 L361.1 325.9 L363.1 326.4 L365.1 326.9 L367.1 327.5 L369.1 328 L371.1 328.6 L373.1 329.1 L375.1 329.6 L377.1 330.1 L379.1 330.7 L381.1 331.2 L383.1 331.7 L385.1 332.3 L387.1 332.8 L389.1 333.3 L391.1 333.9 L393.1 334.4 L395.1 334.9 L397.1 335.4 L399.1 336 L401.1 336.5 L403.1 337 L405.1 337.6 L407.1 338.1 L409.1 338.6 L411.1 339.1 L413.1 339.7 L415.1 340.2 L417.1 340.7 L419.1 341.3 L421.1 341.8 L423.1 342.3 L425.1 342.9 L427.1 343.4 L429.1 343.9 L431.1 344.5 L433.1 345 L435.1 345.5 L437.1 346.1 L439.1 346.6 L441.1 347.1 L443.1 347.7 L445.1 348.2 L447.1 348.8 L449.1 349.3 L451.1 349.9 L453.1 350.4 L453.2 350.4" stroke="#c9def2" stroke-width="3.4000000000000004" fill="none" stroke-linejoin="round" stroke-opacity="0.55"/>
<path d="M31 343.6 L80.4 341.7 L80.4 341.7 L82.4 342.1 L84.4 342.4 L86.4 342.8 L88.4 343.2 L90.4 343.5 L92.4 343.9 L94.4 344.2 L96.4 344.6 L98.4 344.9 L100.4 345.3 L102.4 345.6 L104.4 346 L106.4 346.3 L108.4 346.7 L110.4 347 L112.4 347.4 L114.4 347.7 L116.4 348.1 L118.4 348.4 L120.4 348.7 L122.4 349.1 L124.4 349.4 L126.4 349.7 L128.4 350.1 L130.4 350.4 L132.4 350.7 L134.4 351.1 L136.4 351.4 L138.4 351.7 L140.4 352 L142.4 352.3 L144.4 352.6 L146.4 352.9 L148.4 353.3 L150.4 353.6 L152.4 353.9 L154.4 354.2 L156.4 354.5 L158.4 354.8 L160.4 355.1 L162.4 355.4 L164.4 355.7 L166.4 355.9 L168.4 356.2 L170.4 356.5 L172.4 356.8 L174.4 357.1 L176.4 357.4 L178.4 357.7 L180.4 358 L182.4 358.2 L184.4 358.5 L186.4 358.8 L188.4 359.1 L190.4 359.4 L192.4 359.6 L194.4 359.9 L196.4 360.2 L198.4 360.5 L200.4 360.7 L202.4 361 L204.4 361.3 L206.4 361.5 L208.4 361.8 L210.4 362.1 L212.4 362.3 L214.4 362.6 L216.4 362.9 L218.4 363.1 L220.4 363.4 L222.4 363.7 L224.4 363.9 L226.4 364.2 L228.4 364.4 L230.4 364.7 L232.4 364.9 L234.4 365.2 L236.4 365.5 L238.4 365.7 L240.4 366 L242.4 366.2 L244.4 366.5 L246.4 366.7 L248.4 367 L250.4 367.3 L252.4 367.5 L254.4 367.8 L256.4 368 L258.4 368.3 L260.4 368.5 L262.4 368.8 L264.4 369 L266.4 369.2 L268.4 369.5 L270.4 369.7 L272.4 370 L274.4 370.2 L276.4 370.5 L278.4 370.7 L280.4 370.9 L282.4 371.2 L284.4 371.4 L286.4 371.6 L288.4 371.9 L290.4 372.1 L292.4 372.3 L294.4 372.6 L296.4 372.8 L298.4 373 L300.4 373.3 L302.4 373.5 L304.4 373.7 L306.4 373.9 L306.9 374" stroke="#c9def2" stroke-width="3.2" fill="none" stroke-linejoin="round" stroke-opacity="0.55"/>
<path d="M31 152.6 L263 152.6" stroke="#1b3149" stroke-width="1.5" fill="none" stroke-linejoin="round"/>
<path d="M31 229.4 L420.5 229.4" stroke="#1b3149" stroke-width="1.5" fill="none" stroke-linejoin="round"/>
<path d="M31 305.3 L599.6 305.3" stroke="#1b3149" stroke-width="1.5" fill="none" stroke-linejoin="round"/>
<path d="M31 267.4 L263 151.2" stroke="#1b3149" stroke-width="1.8" fill="none" stroke-linejoin="round"/>
<path d="M31 313.2 L421.4 231.4" stroke="#1b3149" stroke-width="1.3" fill="none" stroke-linejoin="round"/>
<path d="M31 343.6 L599.6 304.7" stroke="#1b3149" stroke-width="1.6" fill="none" stroke-linejoin="round"/>
<path d="M31 93.6 L33 93.2 L35 92.8 L37 92.4 L39 92 L41 91.6 L43 91.2 L45 90.8 L47 90.4 L49 90.1 L51 89.7 L53 89.3 L55 89 L57 88.6 L59 88.3 L61 87.9 L63 87.6 L65 87.3 L67 87 L69 86.7 L71 86.3 L73 86 L75 85.7 L77 85.4 L79 85.1 L81 84.8 L83 84.5 L85 84.2 L87 83.9 L89 83.7 L91 83.4 L93 83.1 L95 82.8 L97 82.6 L99 82.3 L101 82.1 L103 81.9 L105 81.7 L107 81.5 L109 81.3 L111 81.1 L113 80.9 L115 80.8 L117 80.6 L119 80.4 L121 80.3 L123 80.1 L125 80 L127 79.8 L129 79.7 L131 79.5 L133 79.4 L135 79.3 L137 79.2 L139 79 L141 78.9 L143 78.8 L145 78.7 L147 78.6 L149 78.6 L151 78.5 L153 78.4 L153.9 78.4 L153.9 79.2 L155.9 80.7 L157.9 82.2 L159.9 83.7 L161.9 85.2 L163.9 86.7 L165.9 88.2 L167.9 89.6 L169.9 91.1 L171.9 92.5 L173.9 94 L175.9 95.4 L177.9 96.8 L179.9 98.2 L181.9 99.7 L183.9 101.1 L185.9 102.4 L187.9 103.8 L189.9 105.2 L191.9 106.6 L193.9 107.9 L195.9 109.3 L197.9 110.6 L199.9 112 L201.9 113.3 L203.9 114.6 L205.9 115.9 L207.9 117.2 L209.9 118.5 L211.9 119.8 L213.9 121.1 L215.9 122.4 L217.9 123.7 L219.9 125 L221.9 126.2 L223.9 127.5 L225.9 128.7 L227.9 130 L229.9 131.2 L231.9 132.4 L233.9 133.7 L235.9 134.9 L237.9 136.1 L239.9 137.3 L241.9 138.5 L243.9 139.7 L245.9 140.9 L247.9 142.1 L249.9 143.3 L251.9 144.4 L253.9 145.6 L255.9 146.8 L257.9 147.9 L259.9 149.1 L261.9 150.2 L263.9 151.4 L265.9 152.5 L267.9 153.7 L269.9 154.8 L271.9 155.9 L273.9 157 L275.9 158.2 L277.9 159.3 L279.9 160.4 L281.9 161.5 L283.9 162.6 L285.9 163.7 L287.9 164.8 L289.9 165.8 L291.9 166.9 L293.9 168 L295.9 169.1 L297.9 170.1 L299.9 171.2 L301.9 172.3 L303.9 173.3 L305.9 174.4 L307.9 175.4 L309.9 176.5 L311.9 177.5 L313.9 178.6 L315.9 179.6 L317.9 180.6 L319.9 181.7 L321.9 182.7 L323.9 183.7 L325.9 184.7 L327.9 185.7 L329.9 186.7 L331.9 187.7 L333.9 188.7 L335.9 189.7 L337.9 190.7 L339.9 191.7 L341.9 192.7 L343.9 193.7 L345.9 194.7 L347.9 195.7 L349.9 196.7 L351.9 197.6 L353.9 198.6 L355.9 199.6 L357.9 200.6 L359.9 201.5 L361.9 202.5 L363.9 203.4 L365.9 204.4 L367.9 205.4 L369.9 206.3 L371.9 207.3 L373.9 208.2 L375.9 209.1 L377.9 210.1 L379.9 211 L381.9 212 L383.9 212.9 L385.9 213.8 L387.9 214.8 L389.9 215.7 L391.9 216.6 L393.9 217.6 L395.9 218.5 L397.9 219.4 L399.9 220.3 L401.9 221.2 L403.9 222.2 L405.9 223.1 L407.9 224 L409.9 224.9 L411.9 225.8 L413.9 226.7 L415.9 227.6 L417.9 228.5 L419.9 229.4 L421.9 230.3 L423.9 231.2 L425.9 232.1 L427.9 233 L429.9 233.9 L431.9 234.8 L433.9 235.7 L435.9 236.6 L437.9 237.5 L439.9 238.4 L441.9 239.3 L443.9 240.1 L445.9 241 L447.9 241.9 L449.9 242.8 L451.9 243.7 L453.9 244.5 L455.9 245.4 L457.9 246.3 L459.9 247.2 L461.9 248 L463.9 248.9 L465.9 249.8 L467.9 250.6 L469.9 251.5 L471.9 252.4 L473.9 253.2 L475.9 254.1 L477.9 255 L479.9 255.8 L481.9 256.7 L483.9 257.5 L485.9 258.4 L487.9 259.2 L489.9 260.1 L491.9 260.9 L493.9 261.8 L495.9 262.6 L497.9 263.5 L499.9 264.3 L501.9 265.2 L503.9 266 L505.9 266.8 L507.9 267.7 L509.9 268.5 L511.9 269.4 L513.9 270.2 L515.9 271 L517.9 271.9 L519.9 272.7 L521.9 273.5 L523.9 274.4 L525.9 275.2 L527.9 276 L529.9 276.8 L531.9 277.7 L533.9 278.5 L535.9 279.3 L537.9 280.1 L539.9 281 L541.9 281.8 L543.9 282.6 L545.9 283.4 L547.9 284.2 L549.9 285 L551.9 285.9 L553.9 286.7 L555.9 287.5 L557.9 288.3 L559.9 289.1 L561.9 289.9 L563.9 290.7 L565.9 291.5 L567.9 292.3 L569.9 293.1 L571.9 293.9 L573.9 294.8 L575.9 295.6 L577.9 296.4 L579.9 297.2 L581.9 298 L583.9 298.8 L585.9 299.6 L587.9 300.4 L589.9 301.1 L591.9 301.9 L593.9 302.7 L595.9 303.5 L597.9 304.3 L599.9 305.1 L601.9 305.9 L603.9 306.7 L605.9 307.5 L607.9 308.3 L609.9 309.1 L611.9 309.9 L613.9 310.7 L615.9 311.4 L617.9 312.2 L619.9 313 L621.9 313.8 L623.9 314.6 L625.9 315.4 L627.9 316.1 L629.9 316.9 L631.9 317.7 L633.9 318.5 L635.9 319.3 L637.9 320 L639.9 320.8 L641.9 321.6 L643.9 322.4 L645.9 323.2 L647.9 323.9 L649.9 324.7 L651.9 325.5 L653.9 326.3 L655.9 327 L657.9 327.8 L659.9 328.6 L661.9 329.4 L663.9 330.1 L665.9 330.9 L667.9 331.7 L669.9 332.4 L671.9 333.2 L673.9 334 L675.9 334.8 L677.9 335.5 L679.9 336.3 L681.9 337.1 L683.9 337.8 L684.9 338.2" stroke="#1b3149" stroke-width="1.5" fill="none" stroke-linejoin="round"/>
<path d="M263.9 151.4 L265.9 152.5 L267.9 153.7 L269.9 154.8 L271.9 155.9 L273.9 157 L275.9 158.2 L277.9 159.3 L279.9 160.4 L281.9 161.5 L283.9 162.6 L285.9 163.7 L287.9 164.8 L289.9 165.8 L291.9 166.9 L293.9 168 L295.9 169.1 L297.9 170.1 L299.9 171.2 L301.9 172.3 L303.9 173.3 L305.9 174.4 L307.9 175.4 L309.9 176.5 L311.9 177.5 L313.9 178.6 L315.9 179.6 L317.9 180.6 L319.9 181.7 L321.9 182.7 L323.9 183.7 L325.9 184.7 L327.9 185.7 L329.9 186.7 L331.9 187.7 L333.9 188.7 L335.9 189.7 L337.9 190.7 L339.9 191.7 L341.9 192.7 L343.9 193.7 L345.9 194.7 L347.9 195.7 L349.9 196.7 L351.9 197.6 L353.9 198.6 L355.9 199.6 L357.9 200.6 L359.9 201.5 L361.9 202.5 L363.9 203.4 L365.9 204.4 L367.9 205.4 L369.9 206.3 L371.9 207.3 L373.9 208.2 L375.9 209.1 L377.9 210.1 L379.9 211 L381.9 212 L383.9 212.9 L385.9 213.8 L387.9 214.8 L389.9 215.7 L391.9 216.6 L393.9 217.6 L395.9 218.5 L397.9 219.4 L399.9 220.3 L401.9 221.2 L403.9 222.2 L405.9 223.1 L407.9 224 L409.9 224.9 L411.9 225.8 L413.9 226.7 L415.9 227.6 L417.9 228.5 L419.9 229.4 L421.9 230.3 L423.9 231.2 L425.9 232.1 L427.9 233 L429.9 233.9 L431.9 234.8 L433.9 235.7 L435.9 236.6 L437.9 237.5 L439.9 238.4 L441.9 239.3 L443.9 240.1 L445.9 241 L447.9 241.9 L449.9 242.8 L451.9 243.7 L453.9 244.5 L455.9 245.4 L457.9 246.3 L459.9 247.2 L461.9 248 L463.9 248.9 L465.9 249.8 L467.9 250.6 L469.9 251.5 L471.9 252.4 L473.9 253.2 L475.9 254.1 L477.9 255 L479.9 255.8 L481.9 256.7 L483.9 257.5 L485.9 258.4 L487.9 259.2 L489.9 260.1 L491.9 260.9 L493.9 261.8 L495.9 262.6 L497.9 263.5 L499.9 264.3 L501.9 265.2 L503.9 266 L505.9 266.8 L507.9 267.7 L509.9 268.5 L511.9 269.4 L513.9 270.2 L515.9 271 L517.9 271.9 L519.9 272.7 L521.9 273.5 L523.9 274.4 L525.9 275.2 L527.9 276 L529.9 276.8 L531.9 277.7 L533.9 278.5 L535.9 279.3 L537.9 280.1 L539.9 281 L541.9 281.8 L543.9 282.6 L545.9 283.4 L547.9 284.2 L549.9 285 L551.9 285.9 L553.9 286.7 L555.9 287.5 L557.9 288.3 L559.9 289.1 L561.9 289.9 L563.9 290.7 L565.9 291.5 L567.9 292.3 L569.9 293.1 L571.9 293.9 L573.9 294.8 L575.9 295.6 L577.9 296.4 L579.9 297.2 L581.9 298 L583.9 298.8 L585.9 299.6 L587.9 300.4 L589.9 301.1 L591.9 301.9 L593.9 302.7 L595.9 303.5 L597.9 304.3 L599.9 305.1 L601.9 305.9 L603.9 306.7 L605.9 307.5 L607.9 308.3 L609.9 309.1 L611.9 309.9 L613.9 310.7 L615.9 311.4 L617.9 312.2 L619.9 313 L621.9 313.8 L623.9 314.6 L625.9 315.4 L627.9 316.1 L629.9 316.9 L631.9 317.7 L633.9 318.5 L635.9 319.3 L637.9 320 L639.9 320.8 L641.9 321.6 L643.9 322.4 L645.9 323.2 L647.9 323.9 L649.9 324.7 L651.9 325.5 L653.9 326.3 L655.9 327 L657.9 327.8 L659.9 328.6 L661.9 329.4 L663.9 330.1 L665.9 330.9 L667.9 331.7 L669.9 332.4 L671.9 333.2 L673.9 334 L675.9 334.8 L677.9 335.5 L679.9 336.3 L681.9 337.1 L683.9 337.8 L684.9 338.2" stroke="#1b3149" stroke-width="2.0" fill="none" stroke-linejoin="round"/>
<path d="M30.5 158.5 L32.5 158.2 L34.5 157.8 L36.5 157.5 L38.5 157.1 L40.5 156.8 L42.5 156.5 L44.5 156.2 L46.5 155.8 L48.5 155.5 L50.5 155.2 L52.5 154.9 L54.5 154.7 L56.5 154.4 L58.5 154.1 L60.5 153.8 L62.5 153.6 L64.5 153.3 L66.5 153.1 L68.5 152.8 L70.5 152.6 L72.5 152.3 L74.5 152.1 L76.5 151.9 L78.5 151.6 L80.5 151.4 L82.5 151.2 L84.5 151 L86.5 150.8 L88.5 150.6 L90.5 150.4 L92.5 150.2 L94.5 150 L96.5 149.8 L98.5 149.6 L100.5 149.5 L102.5 149.3 L104.5 149.1 L106.5 149 L108.5 148.8 L110.5 148.6 L112.5 148.5 L114.5 148.3 L116.5 148.2 L118.5 148.1 L120.5 147.9 L122.5 147.8 L124.5 147.7 L126.5 147.5 L128.5 147.4 L130.5 147.3 L132.5 147.2 L133.9 147.1 L133.9 147.5 L135.9 148.7 L137.9 150 L139.9 151.2 L141.9 152.4 L143.9 153.7 L145.9 154.9 L147.9 156.1 L149.9 157.3 L151.9 158.6 L153.9 159.8 L155.9 161 L157.9 162.2 L159.9 163.4 L161.9 164.5 L163.9 165.7 L165.9 166.9 L167.9 168.1 L169.9 169.2 L171.9 170.4 L173.9 171.6 L175.9 172.7 L177.9 173.9 L179.9 175 L181.9 176.1 L183.9 177.3 L185.9 178.4 L187.9 179.5 L189.9 180.6 L191.9 181.7 L193.9 182.9 L195.9 184 L197.9 185.1 L199.9 186.2 L201.9 187.2 L203.9 188.3 L205.9 189.4 L207.9 190.5 L209.9 191.6 L211.9 192.6 L213.9 193.7 L215.9 194.7 L217.9 195.8 L219.9 196.9 L221.9 197.9 L223.9 198.9 L225.9 200 L227.9 201 L229.9 202 L231.9 203.1 L233.9 204.1 L235.9 205.1 L237.9 206.1 L239.9 207.1 L241.9 208.1 L243.9 209.1 L245.9 210.1 L247.9 211.1 L249.9 212.1 L251.9 213.1 L253.9 214.1 L255.9 215 L257.9 216 L259.9 217 L261.9 217.9 L263.9 218.9 L265.9 219.8 L267.9 220.8 L269.9 221.7 L271.9 222.7 L273.9 223.6 L275.9 224.6 L277.9 225.5 L279.9 226.4 L281.9 227.4 L283.9 228.3 L285.9 229.2 L287.9 230.1 L289.9 231 L291.9 231.9 L293.9 232.8 L295.9 233.7 L297.9 234.6 L299.9 235.5 L301.9 236.4 L303.9 237.3 L305.9 238.2 L307.9 239.1 L309.9 240 L311.9 240.8 L313.9 241.7 L315.9 242.6 L317.9 243.4 L319.9 244.3 L321.9 245.1 L323.9 246 L325.9 246.9 L327.9 247.7 L329.9 248.5 L331.9 249.4 L333.9 250.2 L335.9 251.1 L337.9 251.9 L339.9 252.7 L341.9 253.6 L343.9 254.4 L345.9 255.2 L347.9 256 L349.9 256.8 L351.9 257.6 L353.9 258.5 L355.9 259.3 L357.9 260.1 L359.9 260.9 L361.9 261.7 L363.9 262.5 L365.9 263.3 L367.9 264 L369.9 264.8 L371.9 265.6 L373.9 266.4 L375.9 267.2 L377.9 268 L379.9 268.7 L381.9 269.5 L383.9 270.3 L385.9 271 L387.9 271.8 L389.9 272.6 L391.9 273.3 L393.9 274.1 L395.9 274.8 L397.9 275.6 L399.9 276.4 L401.9 277.1 L403.9 277.8 L405.9 278.6 L407.9 279.3 L409.9 280.1 L411.9 280.8 L413.9 281.5 L415.9 282.3 L417.9 283 L419.9 283.7 L421.9 284.5 L423.9 285.2 L425.9 285.9 L427.9 286.6 L429.9 287.4 L431.9 288.1 L433.9 288.8 L435.9 289.5 L437.9 290.2 L439.9 290.9 L441.9 291.6 L443.9 292.4 L445.9 293.1 L447.9 293.8 L449.9 294.5 L451.9 295.2 L453.9 295.9 L455.9 296.6 L457.9 297.3 L459.9 297.9 L461.9 298.6 L463.9 299.3 L465.9 300 L467.9 300.7 L469.9 301.4 L471.9 302.1 L473.9 302.8 L475.9 303.4 L477.9 304.1 L479.9 304.8 L481.9 305.5 L483.9 306.2 L485.9 306.8 L487.9 307.5 L489.9 308.2 L491.9 308.8 L493.9 309.5 L495.9 310.2 L497.9 310.9 L499.9 311.5 L501.9 312.2 L503.9 312.8 L505.9 313.5 L507.9 314.2 L509.9 314.8 L511.9 315.5 L513.9 316.2 L515.9 316.8 L517.9 317.5 L519.9 318.1 L521.9 318.8 L523.9 319.4 L525.9 320.1 L527.9 320.7 L529.9 321.4 L531.9 322.1 L533.9 322.7 L535.9 323.4 L537.9 324 L539.9 324.7 L541.9 325.3 L543.9 325.9 L545.9 326.6 L547.9 327.2 L549.9 327.9 L551.9 328.5 L553.9 329.2 L555.9 329.8 L557.9 330.5 L559.9 331.1 L561.9 331.8 L563.9 332.4 L565.9 333 L567.9 333.7 L569.9 334.3 L571.9 335 L573.9 335.6 L575.9 336.2 L577.9 336.9 L579.9 337.5 L581.9 338.2 L583.9 338.8 L585.9 339.5 L587.9 340.1 L589.9 340.7 L591.9 341.4 L593.9 342 L595.9 342.7 L597.9 343.3 L599.6 343.8" stroke="#1b3149" stroke-width="1.3" fill="none" stroke-linejoin="round"/>
<path d="M30.5 231.3 L32.5 231.1 L34.5 230.8 L36.5 230.6 L38.5 230.4 L40.5 230.2 L42.5 229.9 L44.5 229.7 L46.5 229.5 L48.5 229.3 L50.5 229.1 L52.5 228.9 L54.5 228.7 L56.5 228.5 L58.5 228.2 L60.5 228 L62.5 227.8 L64.5 227.7 L66.5 227.5 L68.5 227.3 L70.5 227.1 L72.5 226.9 L74.5 226.7 L76.5 226.5 L78.5 226.3 L80.5 226.2 L82.5 226 L84.5 225.8 L86.5 225.6 L88.5 225.5 L90.5 225.3 L92.5 225.1 L94.5 224.9 L95.1 224.9 L95.1 225.5 L97.1 226.7 L99.1 227.8 L101.1 228.9 L103.1 230 L105.1 231.1 L107.1 232.2 L109.1 233.2 L111.1 234.3 L113.1 235.4 L115.1 236.4 L117.1 237.5 L119.1 238.5 L121.1 239.5 L123.1 240.5 L125.1 241.6 L127.1 242.6 L129.1 243.6 L131.1 244.6 L133.1 245.6 L135.1 246.5 L137.1 247.5 L139.1 248.5 L141.1 249.4 L143.1 250.4 L145.1 251.3 L147.1 252.3 L149.1 253.2 L151.1 254.1 L153.1 255.1 L155.1 256 L157.1 256.9 L159.1 257.8 L161.1 258.7 L163.1 259.6 L165.1 260.5 L167.1 261.3 L169.1 262.2 L171.1 263.1 L173.1 263.9 L175.1 264.8 L177.1 265.6 L179.1 266.5 L181.1 267.3 L183.1 268.1 L185.1 269 L187.1 269.8 L189.1 270.6 L191.1 271.4 L193.1 272.2 L195.1 273 L197.1 273.8 L199.1 274.6 L201.1 275.4 L203.1 276.2 L205.1 276.9 L207.1 277.7 L209.1 278.5 L211.1 279.2 L213.1 280 L215.1 280.7 L217.1 281.5 L219.1 282.2 L221.1 282.9 L223.1 283.7 L225.1 284.4 L227.1 285.1 L229.1 285.8 L231.1 286.5 L233.1 287.3 L235.1 288 L237.1 288.7 L239.1 289.3 L241.1 290 L243.1 290.7 L245.1 291.4 L247.1 292.1 L249.1 292.8 L251.1 293.4 L253.1 294.1 L255.1 294.8 L257.1 295.4 L259.1 296.1 L261.1 296.7 L263.1 297.4 L265.1 298 L267.1 298.7 L269.1 299.3 L271.1 299.9 L273.1 300.6 L275.1 301.2 L277.1 301.8 L279.1 302.4 L281.1 303.1 L283.1 303.7 L285.1 304.3 L287.1 304.9 L289.1 305.5 L291.1 306.1 L293.1 306.7 L295.1 307.3 L297.1 307.9 L299.1 308.5 L301.1 309.1 L303.1 309.7 L305.1 310.3 L307.1 310.9 L309.1 311.4 L311.1 312 L313.1 312.6 L315.1 313.2 L317.1 313.7 L319.1 314.3 L321.1 314.9 L323.1 315.4 L325.1 316 L327.1 316.6 L329.1 317.1 L331.1 317.7 L333.1 318.2 L335.1 318.8 L337.1 319.3 L339.1 319.9 L341.1 320.4 L343.1 321 L345.1 321.5 L347.1 322.1 L349.1 322.6 L351.1 323.2 L353.1 323.7 L355.1 324.3 L357.1 324.8 L359.1 325.3 L361.1 325.9 L363.1 326.4 L365.1 326.9 L367.1 327.5 L369.1 328 L371.1 328.6 L373.1 329.1 L375.1 329.6 L377.1 330.1 L379.1 330.7 L381.1 331.2 L383.1 331.7 L385.1 332.3 L387.1 332.8 L389.1 333.3 L391.1 333.9 L393.1 334.4 L395.1 334.9 L397.1 335.4 L399.1 336 L401.1 336.5 L403.1 337 L405.1 337.6 L407.1 338.1 L409.1 338.6 L411.1 339.1 L413.1 339.7 L415.1 340.2 L417.1 340.7 L419.1 341.3 L421.1 341.8 L423.1 342.3 L425.1 342.9 L427.1 343.4 L429.1 343.9 L431.1 344.5 L433.1 345 L435.1 345.5 L437.1 346.1 L439.1 346.6 L441.1 347.1 L443.1 347.7 L445.1 348.2 L447.1 348.8 L449.1 349.3 L451.1 349.9 L453.1 350.4 L453.2 350.4" stroke="#1b3149" stroke-width="1.2" fill="none" stroke-linejoin="round"/>
<path d="M31 343.6 L80.4 341.7 L80.4 341.7 L82.4 342.1 L84.4 342.4 L86.4 342.8 L88.4 343.2 L90.4 343.5 L92.4 343.9 L94.4 344.2 L96.4 344.6 L98.4 344.9 L100.4 345.3 L102.4 345.6 L104.4 346 L106.4 346.3 L108.4 346.7 L110.4 347 L112.4 347.4 L114.4 347.7 L116.4 348.1 L118.4 348.4 L120.4 348.7 L122.4 349.1 L124.4 349.4 L126.4 349.7 L128.4 350.1 L130.4 350.4 L132.4 350.7 L134.4 351.1 L136.4 351.4 L138.4 351.7 L140.4 352 L142.4 352.3 L144.4 352.6 L146.4 352.9 L148.4 353.3 L150.4 353.6 L152.4 353.9 L154.4 354.2 L156.4 354.5 L158.4 354.8 L160.4 355.1 L162.4 355.4 L164.4 355.7 L166.4 355.9 L168.4 356.2 L170.4 356.5 L172.4 356.8 L174.4 357.1 L176.4 357.4 L178.4 357.7 L180.4 358 L182.4 358.2 L184.4 358.5 L186.4 358.8 L188.4 359.1 L190.4 359.4 L192.4 359.6 L194.4 359.9 L196.4 360.2 L198.4 360.5 L200.4 360.7 L202.4 361 L204.4 361.3 L206.4 361.5 L208.4 361.8 L210.4 362.1 L212.4 362.3 L214.4 362.6 L216.4 362.9 L218.4 363.1 L220.4 363.4 L222.4 363.7 L224.4 363.9 L226.4 364.2 L228.4 364.4 L230.4 364.7 L232.4 364.9 L234.4 365.2 L236.4 365.5 L238.4 365.7 L240.4 366 L242.4 366.2 L244.4 366.5 L246.4 366.7 L248.4 367 L250.4 367.3 L252.4 367.5 L254.4 367.8 L256.4 368 L258.4 368.3 L260.4 368.5 L262.4 368.8 L264.4 369 L266.4 369.2 L268.4 369.5 L270.4 369.7 L272.4 370 L274.4 370.2 L276.4 370.5 L278.4 370.7 L280.4 370.9 L282.4 371.2 L284.4 371.4 L286.4 371.6 L288.4 371.9 L290.4 372.1 L292.4 372.3 L294.4 372.6 L296.4 372.8 L298.4 373 L300.4 373.3 L302.4 373.5 L304.4 373.7 L306.4 373.9 L306.9 374" stroke="#1b3149" stroke-width="1.0" fill="none" stroke-linejoin="round"/>
<path d="M40.8 367 L42.3 365.3 L43.8 363.7 L45.3 362 L46.8 360.3 L48.3 358.7 L49.8 357 L51.3 355.3 L52.8 353.7 L54.3 352 L55.8 350.2 L57.3 348.4 L58.8 346.6 L60.3 344.7 L61.8 342.8 L63.3 340.9 L64.8 339 L66.3 337.1 L67.8 335.2 L69.3 333.3 L70.8 331.5 L72.3 329.6 L73.8 327.9 L75.3 326.2 L76.8 324.5 L78.3 322.8 L79.8 321.1 L81.3 319.4 L82.8 317.5 L84.3 315.7 L85.8 313.7 L87.3 311.8 L88.8 309.9 L90.3 308 L91.8 306.2 L93.3 304.5 L94.8 302.9 L96.3 301.3 L97.8 299.8 L99.3 298.3 L100.8 297 L102.3 295.7 L103.8 294.5 L105.3 293.3 L106.8 292.2 L108.3 291.1 L109.8 290.1 L111.3 289.2 L112.8 288.2 L114.3 287.3 L115.8 286.3 L117.3 285.5 L118.8 284.6 L120.3 283.7 L121.8 282.9 L123.3 282.1 L124.8 281.3 L126.3 280.6 L127.8 279.8 L129.3 279.1 L130.8 278.5 L132.3 277.8 L133.8 277.2 L135.3 276.5 L136.8 275.9 L138.3 275.4 L139.8 274.8 L141.3 274.3 L142.8 273.7 L144.3 273.2 L145.8 272.7 L147.3 272.2 L148.8 271.7 L150.3 271.2 L151.8 270.8 L153.3 270.3 L154.8 269.8 L156.3 269.4 L157.8 269 L159.3 268.6 L160.8 268.2 L162.3 267.8 L163.8 267.5 L165.3 267.2 L166.8 266.9 L168.3 266.6 L169.8 266.3 L171.3 266 L172.8 265.7 L174.3 265.5 L175.8 265.3 L177.3 265.1 L178.8 264.9 L180.3 264.8 L181.8 264.7 L183.3 264.6 L184.8 264.5 L186.3 264.4 L187.8 264.3 L189.3 264.2 L190.8 264.1 L192.3 264.1 L193.8 264 L195.3 264 L196.8 264 L198.3 264 L199.8 264.1 L201.3 264.1 L202.8 264.2 L204.3 264.3 L205.8 264.4 L207.3 264.6 L208.8 264.8 L210.3 264.9 L211.8 265.1 L213.3 265.3 L214.8 265.5 L216.3 265.7 L217.8 265.9 L219.3 266.3 L220.8 266.6 L222.3 267 L223.8 267.4 L225.3 267.8 L226.8 268.2 L228.3 268.6 L229.8 269 L231.3 269.4 L232.8 269.8 L234.3 270.3 L235.8 270.7 L237.3 271.1 L238.8 271.5 L240.3 272 L241.8 272.5 L243.3 272.9 L244.8 273.4 L246.3 273.9 L247.8 274.5 L249.3 275 L250.8 275.5 L252.3 276.1 L253.8 276.7 L255.3 277.3 L256.8 278 L258.3 278.6 L259.8 279.3 L261.3 280.1 L262.8 280.9 L264.3 281.7 L265.8 282.5 L267.3 283.4 L268.8 284.3 L270.3 285.2 L271.8 286.2 L273.3 287.2 L274.8 288.2 L276.3 289.3 L277.8 290.4 L279.3 291.6 L280.8 292.6 L282.3 293.7 L283.8 294.7 L285.3 295.8 L286.8 296.8 L288.3 297.8 L289.8 298.8 L291.3 299.9 L292.8 300.9 L294.3 302 L295.8 303.1 L297.3 304.2 L298.8 305.3 L300.3 306.5 L301.8 307.7 L303.3 308.8 L304.8 310 L306 311" stroke="#fff" stroke-width="0.8" fill="none" stroke-opacity="0.5" stroke-linecap="round" stroke-linejoin="round" transform="translate(0 1.1)"/>
<path d="M40.8 367 L42.3 365.3 L43.8 363.7 L45.3 362 L46.8 360.3 L48.3 358.7 L49.8 357 L51.3 355.3 L52.8 353.7 L54.3 352 L55.8 350.2 L57.3 348.4 L58.8 346.6 L60.3 344.7 L61.8 342.8 L63.3 340.9 L64.8 339 L66.3 337.1 L67.8 335.2 L69.3 333.3 L70.8 331.5 L72.3 329.6 L73.8 327.9 L75.3 326.2 L76.8 324.5 L78.3 322.8 L79.8 321.1 L81.3 319.4 L82.8 317.5 L84.3 315.7 L85.8 313.7 L87.3 311.8 L88.8 309.9 L90.3 308 L91.8 306.2 L93.3 304.5 L94.8 302.9 L96.3 301.3 L97.8 299.8 L99.3 298.3 L100.8 297 L102.3 295.7 L103.8 294.5 L105.3 293.3 L106.8 292.2 L108.3 291.1 L109.8 290.1 L111.3 289.2 L112.8 288.2 L114.3 287.3 L115.8 286.3 L117.3 285.5 L118.8 284.6 L120.3 283.7 L121.8 282.9 L123.3 282.1 L124.8 281.3 L126.3 280.6 L127.8 279.8 L129.3 279.1 L130.8 278.5 L132.3 277.8 L133.8 277.2 L135.3 276.5 L136.8 275.9 L138.3 275.4 L139.8 274.8 L141.3 274.3 L142.8 273.7 L144.3 273.2 L145.8 272.7 L147.3 272.2 L148.8 271.7 L150.3 271.2 L151.8 270.8 L153.3 270.3 L154.8 269.8 L156.3 269.4 L157.8 269 L159.3 268.6 L160.8 268.2 L162.3 267.8 L163.8 267.5 L165.3 267.2 L166.8 266.9 L168.3 266.6 L169.8 266.3 L171.3 266 L172.8 265.7 L174.3 265.5 L175.8 265.3 L177.3 265.1 L178.8 264.9 L180.3 264.8 L181.8 264.7 L183.3 264.6 L184.8 264.5 L186.3 264.4 L187.8 264.3 L189.3 264.2 L190.8 264.1 L192.3 264.1 L193.8 264 L195.3 264 L196.8 264 L198.3 264 L199.8 264.1 L201.3 264.1 L202.8 264.2 L204.3 264.3 L205.8 264.4 L207.3 264.6 L208.8 264.8 L210.3 264.9 L211.8 265.1 L213.3 265.3 L214.8 265.5 L216.3 265.7 L217.8 265.9 L219.3 266.3 L220.8 266.6 L222.3 267 L223.8 267.4 L225.3 267.8 L226.8 268.2 L228.3 268.6 L229.8 269 L231.3 269.4 L232.8 269.8 L234.3 270.3 L235.8 270.7 L237.3 271.1 L238.8 271.5 L240.3 272 L241.8 272.5 L243.3 272.9 L244.8 273.4 L246.3 273.9 L247.8 274.5 L249.3 275 L250.8 275.5 L252.3 276.1 L253.8 276.7 L255.3 277.3 L256.8 278 L258.3 278.6 L259.8 279.3 L261.3 280.1 L262.8 280.9 L264.3 281.7 L265.8 282.5 L267.3 283.4 L268.8 284.3 L270.3 285.2 L271.8 286.2 L273.3 287.2 L274.8 288.2 L276.3 289.3 L277.8 290.4 L279.3 291.6 L280.8 292.6 L282.3 293.7 L283.8 294.7 L285.3 295.8 L286.8 296.8 L288.3 297.8 L289.8 298.8 L291.3 299.9 L292.8 300.9 L294.3 302 L295.8 303.1 L297.3 304.2 L298.8 305.3 L300.3 306.5 L301.8 307.7 L303.3 308.8 L304.8 310 L306 311" stroke="#000" stroke-width="0.8" fill="none" stroke-linecap="round" stroke-linejoin="round"/>
<path d="M56 351.7 L57.5 348.3 L59 345.1 L60.5 342.2 L62 339.4 L63.5 336.7 L65 334.2 L66.5 331.9 L68 329.6 L69.5 327.3 L71 325.1 L72.5 322.9 L74 320.7 L75.5 318.5 L77 316.4 L78.5 314.2 L80 312.1 L81.5 310.1 L83 308.1 L84.5 306.1 L86 304.2 L87.5 302.4 L89 300.7 L90.5 299.1 L92 297.5 L93.5 296 L95 294.5 L96.5 293.1 L98 291.8 L99.5 290.5 L101 289.3 L102.5 288.1 L104 287 L105.5 286 L107 284.9 L108.5 283.9 L110 283 L111.5 282 L113 281.1 L114.5 280.3 L116 279.4 L117.5 278.6 L119 277.8 L120.5 277 L122 276.2 L123.5 275.5 L125 274.7 L126.5 273.9 L128 273.2 L129.5 272.4 L131 271.6 L132.5 270.9 L134 270.1 L135.5 269.3 L137 268.5 L138.5 267.7 L140 266.9 L141.5 266 L143 265.2 L144.5 264.4 L146 263.5 L147.5 262.7 L149 261.9 L150.5 261 L152 260.1 L153.5 259.3 L155 258.4 L156.5 257.6 L158 256.7 L159.5 255.8 L161 255 L162.5 254.1 L164 253.2 L165.5 252.4 L167 251.5 L168.5 250.6 L170 249.7 L171.5 248.9 L173 248 L174.5 247.1 L176 246.3 L177.5 245.4 L179 244.5 L180.5 243.7 L182 242.8 L183.5 242 L185 241.1 L186.5 240.3 L188 239.5 L189.5 238.6 L191 237.8 L192.5 237 L194 236.2 L195.5 235.4 L197 234.6 L198.5 233.8 L200 233 L201.5 232.2 L203 231.5 L204.5 230.7 L206 229.9 L207.5 229.2 L209 228.5 L210.5 227.8 L212 227.1 L213.5 226.4 L215 225.7 L216.5 225 L218 224.3 L219.5 223.7 L221 223 L222.5 222.4 L224 221.8 L225.5 221.2 L227 220.6 L228.5 220.1 L230 219.5 L231.5 219 L233 218.5 L234.5 218 L236 217.5 L237.5 217 L239 216.5 L240.5 216.1 L242 215.6 L243.5 215.2 L245 214.8 L246.5 214.4 L248 214 L249.5 213.7 L251 213.3 L252.5 213 L254 212.7 L255.5 212.4 L257 212.1 L258.5 211.8 L260 211.5 L261.5 211.2 L263 211 L264.5 210.7 L266 210.5 L267.5 210.3 L269 210.1 L270.5 209.9 L272 209.7 L273.5 209.5 L275 209.4 L276.5 209.2 L278 209.1 L279.5 208.9 L281 208.8 L282.5 208.7 L284 208.6 L285.5 208.5 L287 208.4 L288.5 208.4 L290 208.3 L291.5 208.2 L293 208.2 L294.5 208.1 L296 208.1 L297.5 208.1 L299 208.1 L300.5 208.1 L302 208.1 L303.5 208.1 L305 208.1 L306.5 208.1 L308 208.1 L309.5 208.2 L311 208.2 L312.5 208.3 L314 208.3 L315.5 208.4 L317 208.4 L318.5 208.5 L320 208.6 L321.5 208.7 L323 208.7 L324.5 208.8 L326 208.9 L327.5 209 L329 209.1 L330.5 209.2 L332 209.4 L333.5 209.5 L335 209.6 L336.5 209.7 L338 209.8 L339.5 210 L341 210.1 L342.5 210.2 L344 210.4 L345.5 210.5 L347 210.7 L348.5 210.8 L350 211 L351.5 211.1 L353 211.3 L354.5 211.4 L356 211.6 L357.5 211.7 L359 211.9 L360.5 212.1 L362 212.2 L363.5 212.4 L365 212.5 L366.5 212.7 L368 212.9 L369.5 213 L371 213.2 L372.5 213.3 L374 213.5 L375.5 213.7 L377 213.8 L378.5 214 L380 214.2 L381.5 214.3 L383 214.5 L384.5 214.6 L386 214.8 L387.5 215 L389 215.1 L390.5 215.3 L392 215.5 L393.5 215.6 L395 215.8 L396.5 216 L398 216.1 L399.5 216.3 L401 216.5 L402.5 216.6 L404 216.8 L405.5 217 L407 217.2 L408.5 217.3 L410 217.5 L411.5 217.7 L413 217.8 L414.5 218 L416 218.2 L417.5 218.3 L419 218.5 L420.5 218.7 L422 218.8 L423.5 219 L425 219.2 L426.5 219.4 L428 219.5 L429.5 219.7 L431 219.9 L432.5 220 L434 220.2 L435.5 220.4 L437 220.5 L438.5 220.7 L440 220.9 L441.5 221.1 L443 221.2 L444.5 221.4 L446 221.6 L447.5 221.7 L449 221.9 L450.5 222.1 L452 222.2 L453.5 222.4 L455 222.6 L456.5 222.7 L458 222.9 L459.5 223.1 L461 223.3 L462.5 223.4 L464 223.6 L465.5 223.8 L467 223.9 L468.5 224.1 L470 224.3 L471.5 224.4 L473 224.6 L474.5 224.8 L476 224.9 L477.5 225.1 L479 225.3 L480.5 225.4 L482 225.6 L483.5 225.8 L485 225.9 L486.5 226.1 L488 226.2 L489.5 226.4 L491 226.6 L492.5 226.7 L494 226.9 L495.5 227.1 L497 227.2 L498.5 227.4 L500 227.5 L501.5 227.7 L503 227.9 L504.5 228 L506 228.2 L507.5 228.3 L509 228.5 L510.5 228.7 L512 228.8 L513.5 229 L515 229.1 L516.5 229.3 L518 229.4 L519.5 229.6 L521 229.8 L522.5 229.9 L524 230.1 L525.5 230.2 L527 230.4 L528.5 230.5 L530 230.7 L531.5 230.8 L533 231 L534.5 231.1 L536 231.3 L537.5 231.4 L539 231.6 L540.5 231.7 L542 231.9 L543.5 232 L545 232.1 L546.5 232.3 L548 232.4 L549.5 232.6 L551 232.7 L552.5 232.9 L554 233 L555.5 233.1 L557 233.3 L558.5 233.4 L560 233.6 L561.5 233.7 L563 233.8 L564.5 234 L566 234.1 L567.5 234.2 L569 234.4 L570.5 234.5 L572 234.6 L573.5 234.8 L575 234.9 L576.5 235 L578 235.1 L579.5 235.3 L581 235.4 L582.5 235.5 L584 235.6 L585.5 235.8 L587 235.9 L588.5 236 L590 236.1 L591.5 236.2 L593 236.4 L594.5 236.5 L596 236.6 L597.5 236.7 L597.9 236.7" stroke="#000" stroke-width="1.3" fill="none" stroke-linecap="round" stroke-linejoin="round"/>
<path d="M53 353.6 L54.5 350.8 L56 347.9 L57.5 345.1 L59 342.4 L60.5 339.7 L62 337 L63.5 334.3 L65 331.7 L66.5 329.2 L68 326.6 L69.5 324.2 L71 321.7 L72.5 319.3 L74 317 L75.5 314.7 L77 312.5 L78.5 310.4 L80 308.3 L81.5 306.3 L83 304.3 L84.5 302.5 L86 300.7 L87.5 298.9 L89 297.3 L90.5 295.7 L92 294.1 L93.5 292.6 L95 291.2 L96.5 289.8 L98 288.5 L99.5 287.2 L101 285.9 L102.5 284.7 L104 283.5 L105.5 282.4 L107 281.3 L108.5 280.2 L110 279.1 L111.5 278 L113 277 L114.5 275.9 L116 274.9 L117.5 273.9 L119 272.9 L120.5 271.9 L122 270.9 L123.5 269.9 L125 269 L126.5 268 L128 267.1 L129.5 266.1 L131 265.2 L132.5 264.3 L134 263.4 L135.5 262.5 L137 261.6 L138.5 260.7 L140 259.8 L141.5 258.9 L143 258.1 L144.5 257.2 L146 256.3 L147.5 255.5 L149 254.6 L150.5 253.8 L152 253 L153.5 252.1 L155 251.3 L156.5 250.5 L158 249.6 L159.5 248.8 L161 248 L162.5 247.2 L164 246.4 L165.5 245.6 L167 244.8 L168.5 244 L170 243.2 L171.5 242.4 L173 241.6 L174.5 240.8 L176 240 L177.5 239.2 L179 238.4 L180.5 237.6 L182 236.8 L183.5 236 L185 235.2 L186.5 234.5 L188 233.7 L189.5 232.9 L191 232.1 L192.5 231.4 L194 230.6 L195.5 229.9 L197 229.1 L198.5 228.4 L200 227.6 L201.5 226.9 L203 226.2 L204.5 225.5 L206 224.8 L207.5 224.1 L209 223.4 L210.5 222.7 L212 222 L213.5 221.3 L215 220.7 L216.5 220 L218 219.4 L219.5 218.8 L221 218.2 L222.5 217.6 L224 217 L225.5 216.4 L227 215.8 L228.5 215.3 L230 214.7 L231.5 214.2 L233 213.7 L234.5 213.2 L236 212.7 L237.5 212.2 L239 211.7 L240.5 211.3 L242 210.8 L243.5 210.4 L245 210 L246.5 209.6 L248 209.2 L249.5 208.9 L251 208.5 L252.5 208.2 L254 207.8 L255.5 207.5 L257 207.2 L258.5 206.9 L260 206.7 L261.5 206.4 L263 206.2 L264.5 205.9 L266 205.7 L267.5 205.5 L269 205.3 L270.5 205.2 L272 205 L273.5 204.9 L275 204.7 L276.5 204.6 L278 204.5 L279.5 204.4 L281 204.3 L282.5 204.3 L284 204.2 L285.5 204.2 L287 204.2 L288.5 204.2 L290 204.2 L291.5 204.2 L293 204.3 L294.5 204.3 L296 204.4 L297.5 204.5 L299 204.6 L300.5 204.7 L302 204.8 L303.5 205 L305 205.1 L306.5 205.3 L308 205.5 L309.5 205.7 L311 205.9 L312.5 206.1 L314 206.3 L315.5 206.6 L317 206.8 L318.5 207.1 L320 207.4 L321.5 207.7 L323 208 L324.5 208.3 L326 208.6 L327.5 208.9 L329 209.3 L330.5 209.6 L332 210 L333.5 210.4 L335 210.8 L336.5 211.1 L338 211.5 L339.5 212 L341 212.4 L342.5 212.8 L344 213.2 L345.5 213.7 L347 214.1 L348.5 214.6 L350 215.1 L351.5 215.5 L353 216 L354.5 216.5 L356 217 L357.5 217.5 L359 218 L360.5 218.5 L362 219.1 L363.5 219.6 L365 220.1 L366.5 220.6 L368 221.2 L369.5 221.7 L371 222.3 L372.5 222.8 L374 223.4 L375.5 223.9 L377 224.5 L378.5 225.1 L380 225.6 L381.5 226.2 L383 226.8 L384.5 227.4 L386 228 L387.5 228.5 L389 229.1 L390.5 229.7 L392 230.3 L393.5 230.9 L395 231.5 L396.5 232.1 L398 232.7 L399.5 233.3 L401 233.9 L402.5 234.5 L404 235.1 L405.5 235.7 L407 236.3 L408.5 236.9 L410 237.5 L411.5 238.1 L413 238.8 L414.5 239.4 L416 240.1 L417.5 240.7 L419 241.4 L420.5 242.1 L422 242.8 L423.5 243.5 L425 244.2 L426.5 244.9 L428 245.7 L429.5 246.5 L431 247.2 L432.5 248 L434 248.9 L435.5 249.7 L437 250.6 L438.5 251.5 L440 252.4 L441.5 253.3 L443 254.2 L444.5 255.2 L446 256.2 L447.5 257.2 L449 258.3 L450.5 259.3 L452 260.5 L453.2 261.4" stroke="#000" stroke-width="1.3" fill="none" stroke-linecap="round" stroke-linejoin="round"/>
<path d="M53 354 L54.5 350.6 L56 347.5 L57.5 344.4 L59 341.6 L60.5 338.9 L62 336.3 L63.5 333.8 L65 331.4 L66.5 329.1 L68 326.8 L69.5 324.6 L71 322.4 L72.5 320.1 L74 317.8 L75.5 315.5 L77 313.3 L78.5 311.1 L80 308.9 L81.5 306.8 L83 304.8 L84.5 302.8 L86 300.9 L87.5 299 L89 297.2 L90.5 295.5 L92 293.8 L93.5 292.2 L95 290.7 L96.5 289.3 L98 287.9 L99.5 286.5 L101 285.3 L102.5 284 L104 282.8 L105.5 281.7 L107 280.6 L108.5 279.5 L110 278.4 L111.5 277.4 L113 276.5 L114.5 275.5 L116 274.6 L117.5 273.8 L119 272.9 L120.5 272 L122 271.2 L123.5 270.4 L125 269.5 L126.5 268.6 L128 267.8 L129.5 266.9 L131 266 L132.5 265 L134 264.1 L135.5 263.1 L137 262.1 L138.5 261.1 L140 260.1 L141.5 259.1 L143 258.2 L144.5 257.2 L146 256.3 L147.5 255.4 L149 254.6 L150.5 253.7 L152 252.9 L153.5 252.1 L155 251.2 L156.5 250.4 L158 249.6 L159.5 248.8 L161 248 L162.5 247.2 L164 246.4 L165.5 245.5 L167 244.7 L168.5 243.9 L170 243.1 L171.5 242.2 L173 241.4 L174.5 240.6 L176 239.8 L177.5 239 L179 238.2 L180.5 237.4 L182 236.6 L183.5 235.8 L185 235.1 L186.5 234.3 L188 233.5 L189.5 232.7 L191 232 L192.5 231.2 L194 230.5 L195.5 229.8 L197 229 L198.5 228.3 L200 227.6 L201.5 226.8 L203 226.1 L204.5 225.4 L206 224.7 L207.5 224 L209 223.3 L210.5 222.6 L212 222 L213.5 221.3 L215 220.7 L216.5 220.1 L218 219.5 L219.5 218.9 L221 218.3 L222.5 217.7 L224 217.1 L225.5 216.6 L227 216.1 L228.5 215.5 L230 215 L231.5 214.5 L233 214.1 L234.5 213.6 L236 213.1 L237.5 212.6 L239 212.2 L240.5 211.7 L242 211.2 L243.5 210.8 L245 210.3 L246.5 209.8 L248 209.4 L249.5 208.9 L251 208.4 L252.5 208 L254 207.5 L255.5 207.1 L257 206.7 L258.5 206.3 L260 205.9 L261.5 205.5 L263 205.1 L264.5 204.8 L266 204.5 L267.5 204.2 L269 203.9 L270.5 203.6 L272 203.3 L273.5 203.1 L275 202.8 L276.5 202.5 L278 202.3 L279.5 202 L281 201.8 L282.5 201.6 L284 201.3 L285.5 201.1 L287 200.8 L288.5 200.6 L290 200.3 L291.5 200.1 L293 199.8 L294.5 199.6 L296 199.3 L297.5 199.1 L299 198.8 L300.5 198.6 L302 198.3 L303.5 198.1 L305 197.8 L306.5 197.6 L308 197.3 L309.5 197.1 L311 196.9 L312.5 196.6 L314 196.4 L315.5 196.2 L317 196 L318.5 195.7 L320 195.5 L321.5 195.3 L323 195.1 L324.5 194.9 L326 194.7 L327.5 194.5 L329 194.3 L330.5 194.1 L332 193.8 L333.5 193.6 L335 193.4 L336.5 193.2 L338 193 L339.5 192.8 L341 192.6 L342.5 192.4 L344 192.2 L345.5 192.1 L347 191.9 L348.5 191.7 L350 191.6 L351.5 191.4 L353 191.3 L354.5 191.1 L356 191 L357.5 190.9 L359 190.8 L360.5 190.7 L362 190.6 L363.5 190.5 L365 190.4 L366.5 190.3 L368 190.2 L369.5 190.1 L371 190 L372.5 189.9 L374 189.8 L375.5 189.7 L377 189.7 L378.5 189.6 L380 189.5 L381.5 189.4 L383 189.3 L384.5 189.3 L386 189.2 L387.5 189.2 L389 189.1 L390.5 189.1 L392 189 L393.5 189 L395 189 L396.5 188.9 L398 188.9 L399.5 188.9 L401 188.9 L402.5 188.9 L404 188.9 L405.5 188.9 L407 188.9 L408.5 188.9 L410 188.9 L411.5 189 L413 189 L414.5 189 L416 189 L417.5 189 L419 189.1 L420.5 189.1 L421 189.1" stroke="#000" stroke-width="1.3" fill="none" stroke-linecap="round" stroke-linejoin="round"/>
<path d="M51 355.7 L52.5 352.8 L54 349.9 L55.5 347 L57 344.2 L58.5 341.5 L60 338.8 L61.5 336.1 L63 333.5 L64.5 330.9 L66 328.4 L67.5 325.9 L69 323.5 L70.5 321.1 L72 318.8 L73.5 316.5 L75 314.3 L76.5 312.1 L78 310 L79.5 307.9 L81 305.9 L82.5 304 L84 302.1 L85.5 300.2 L87 298.5 L88.5 296.8 L90 295.1 L91.5 293.5 L93 291.9 L94.5 290.4 L96 289 L97.5 287.6 L99 286.2 L100.5 284.9 L102 283.6 L103.5 282.3 L105 281.1 L106.5 279.9 L108 278.7 L109.5 277.6 L111 276.5 L112.5 275.4 L114 274.3 L115.5 273.2 L117 272.2 L118.5 271.1 L120 270.1 L121.5 269.1 L123 268.1 L124.5 267.1 L126 266.1 L127.5 265.1 L129 264.2 L130.5 263.2 L132 262.2 L133.5 261.3 L135 260.4 L136.5 259.4 L138 258.5 L139.5 257.6 L141 256.7 L142.5 255.8 L144 254.9 L145.5 254.1 L147 253.2 L148.5 252.3 L150 251.5 L151.5 250.6 L153 249.8 L154.5 248.9 L156 248.1 L157.5 247.3 L159 246.4 L160.5 245.6 L162 244.8 L163.5 244 L165 243.2 L166.5 242.4 L168 241.6 L169.5 240.8 L171 240 L172.5 239.2 L174 238.4 L175.5 237.6 L177 236.9 L178.5 236.1 L180 235.3 L181.5 234.5 L183 233.8 L184.5 233 L186 232.2 L187.5 231.4 L189 230.7 L190.5 229.9 L192 229.2 L193.5 228.4 L195 227.7 L196.5 226.9 L198 226.2 L199.5 225.4 L201 224.7 L202.5 224 L204 223.3 L205.5 222.6 L207 221.9 L208.5 221.2 L210 220.6 L211.5 219.9 L213 219.3 L214.5 218.6 L216 218 L217.5 217.4 L219 216.8 L220.5 216.2 L222 215.6 L223.5 215.1 L225 214.6 L226.5 214 L228 213.5 L229.5 213 L231 212.5 L232.5 212 L234 211.6 L235.5 211.1 L237 210.7 L238.5 210.3 L240 209.8 L241.5 209.4 L243 209 L244.5 208.7 L246 208.3 L247.5 207.9 L249 207.6 L250.5 207.2 L252 206.9 L253.5 206.6 L255 206.3 L256.5 206 L258 205.7 L259.5 205.4 L261 205.1 L262.5 204.9 L264 204.6 L265.5 204.4 L267 204.1 L268.5 203.9 L270 203.7 L271.5 203.5 L273 203.3 L274.5 203.1 L276 202.9 L277.5 202.7 L279 202.5 L280.5 202.3 L282 202.2 L283.5 202 L285 201.9 L286.5 201.8 L288 201.6 L289.5 201.5 L291 201.4 L292.5 201.3 L294 201.2 L295.5 201.1 L297 201 L298.5 200.9 L300 200.8 L301.5 200.8 L303 200.7 L304.5 200.7 L306 200.6 L307.5 200.6 L309 200.5 L310.5 200.5 L312 200.5 L313.5 200.5 L315 200.5 L316.5 200.4 L318 200.4 L319.5 200.5 L321 200.5 L322.5 200.5 L324 200.5 L325.5 200.5 L327 200.6 L328.5 200.6 L330 200.6 L331.5 200.7 L333 200.7 L334.5 200.8 L336 200.9 L337.5 200.9 L339 201 L340.5 201.1 L342 201.2 L343.5 201.3 L345 201.3 L346.5 201.4 L348 201.5 L349.5 201.6 L351 201.7 L352.5 201.9 L354 202 L355.5 202.1 L357 202.2 L358.5 202.3 L360 202.5 L361.5 202.6 L363 202.7 L364.5 202.9 L366 203 L367.5 203.2 L369 203.3 L370.5 203.5 L372 203.6 L373.5 203.8 L375 203.9 L376.5 204.1 L378 204.3 L379.5 204.4 L381 204.6 L382.5 204.8 L384 204.9 L385.5 205.1 L387 205.3 L388.5 205.5 L390 205.7 L391.5 205.9 L393 206 L394.5 206.2 L396 206.4 L397.5 206.6 L399 206.8 L400.5 207 L402 207.2 L403.5 207.4 L405 207.6 L406.5 207.8 L408 208 L409.5 208.2 L411 208.4 L412.5 208.6 L414 208.8 L415.5 209 L417 209.2 L418.5 209.5 L420 209.7 L421.5 209.9 L423 210.1 L424.5 210.3 L426 210.5 L427.5 210.7 L429 211 L430.5 211.2 L432 211.4 L433.5 211.6 L435 211.9 L436.5 212.1 L438 212.3 L439.5 212.5 L441 212.8 L442.5 213 L444 213.2 L445.5 213.5 L447 213.7 L448.5 213.9 L450 214.2 L451.5 214.4 L453 214.6 L454.5 214.9 L456 215.1 L457.5 215.3 L459 215.6 L460.5 215.8 L462 216 L463.5 216.3 L465 216.5 L466.5 216.8 L468 217 L469.5 217.2 L471 217.5 L472.5 217.7 L474 218 L475.5 218.2 L477 218.5 L478.5 218.7 L480 219 L481.5 219.2 L483 219.4 L484.5 219.7 L486 219.9 L487.5 220.2 L489 220.4 L490.5 220.7 L492 220.9 L493.5 221.2 L495 221.4 L496.5 221.7 L498 221.9 L499.5 222.1 L501 222.4 L502.5 222.6 L504 222.9 L505.5 223.1 L507 223.4 L508.5 223.6 L510 223.9 L511.5 224.1 L513 224.4 L514.5 224.6 L516 224.9 L517.5 225.1 L519 225.4 L520.5 225.6 L522 225.8 L523.5 226.1 L525 226.3 L526.5 226.6 L528 226.8 L529.5 227.1 L531 227.3 L532.5 227.5 L534 227.8 L535.5 228 L537 228.3 L538.5 228.5 L540 228.7 L541.5 229 L543 229.2 L544.5 229.5 L546 229.7 L547.5 229.9 L549 230.2 L550.5 230.4 L552 230.6 L553.5 230.9 L555 231.1 L556.5 231.3 L558 231.6 L559.5 231.8 L561 232 L562.5 232.3 L564 232.5 L565.5 232.7 L567 232.9 L568.5 233.2 L570 233.4 L571.5 233.6 L573 233.8 L574.5 234 L576 234.3 L577.5 234.5 L579 234.7 L580.5 234.9 L582 235.1 L583.5 235.3 L585 235.6 L586.5 235.8 L588 236 L589.5 236.2 L591 236.4 L592.5 236.6 L594 236.8 L595.5 237 L597 237.2 L598 237.3" stroke="#000" stroke-width="1.2" fill="none" stroke-linecap="round" stroke-linejoin="round"/>
<path d="M51 355.3 L52.5 352.5 L54 349.7 L55.5 346.9 L57 344.1 L58.5 341.4 L60 338.7 L61.5 336 L63 333.5 L64.5 331.1 L66 328.8 L67.5 326.5 L69 324.3 L70.5 322 L72 319.6 L73.5 317.3 L75 315.1 L76.5 312.8 L78 310.6 L79.5 308.4 L81 306.3 L82.5 304.2 L84 302.1 L85.5 300.1 L87 298.2 L88.5 296.4 L90 294.6 L91.5 292.9 L93 291.2 L94.5 289.7 L96 288.1 L97.5 286.7 L99 285.3 L100.5 284 L102 282.7 L103.5 281.5 L105 280.3 L106.5 279.2 L108 278.1 L109.5 277 L111 275.9 L112.5 274.9 L114 274 L115.5 273 L117 272.1 L118.5 271.2 L120 270.3 L121.5 269.4 L123 268.5 L124.5 267.7 L126 266.8 L127.5 265.9 L129 265 L130.5 264.1 L132 263.1 L133.5 262.1 L135 261.1 L136.5 260.1 L138 259.1 L139.5 258.1 L141 257.1 L142.5 256.1 L144 255.2 L145.5 254.2 L147 253.3 L148.5 252.4 L150 251.5 L151.5 250.6 L153 249.8 L154.5 248.9 L156 248 L157.5 247.2 L159 246.4 L160.5 245.5 L162 244.7 L163.5 243.9 L165 243 L166.5 242.2 L168 241.4 L169.5 240.5 L171 239.7 L172.5 238.9 L174 238.1 L175.5 237.3 L177 236.5 L178.5 235.7 L180 235 L181.5 234.2 L183 233.5 L184.5 232.7 L186 232 L187.5 231.2 L189 230.5 L190.5 229.8 L192 229.1 L193.5 228.4 L195 227.7 L196.5 227 L198 226.3 L199.5 225.6 L201 224.9 L202.5 224.2 L204 223.5 L205.5 222.8 L207 222.1 L208.5 221.4 L210 220.7 L211.5 220.1 L213 219.4 L214.5 218.8 L216 218.2 L217.5 217.6 L219 217 L220.5 216.4 L222 215.8 L223.5 215.2 L225 214.7 L226.5 214.2 L228 213.7 L229.5 213.2 L231 212.7 L232.5 212.2 L234 211.8 L235.5 211.3 L237 210.9 L238.5 210.4 L240 210 L241.5 209.6 L243 209.2 L244.5 208.7 L246 208.3 L247.5 207.9 L249 207.5 L250.5 207.1 L252 206.7 L253.5 206.2 L255 205.8 L256.5 205.5 L258 205.1 L259.5 204.7 L261 204.4 L262.5 204 L264 203.7 L265.5 203.4 L267 203.1 L268.5 202.8 L270 202.5 L271.5 202.3 L273 202 L274.5 201.7 L276 201.5 L277.5 201.2 L279 201 L280.5 200.7 L282 200.5 L283.5 200.3 L285 200 L286.5 199.8 L288 199.5 L289.5 199.3 L291 199.1 L292.5 198.8 L294 198.6 L295.5 198.3 L297 198.1 L298.5 197.8 L300 197.6 L301.5 197.4 L303 197.1 L304.5 196.9 L306 196.7 L307.5 196.4 L309 196.2 L310.5 196 L312 195.7 L313.5 195.5 L315 195.3 L316.5 195.1 L318 194.9 L319.5 194.7 L321 194.5 L322.5 194.3 L324 194.1 L325.5 193.9 L327 193.7 L328.5 193.5 L330 193.3 L331.5 193.1 L333 192.9 L334.5 192.7 L336 192.5 L337.5 192.4 L339 192.2 L340.5 192 L342 191.8 L343.5 191.6 L345 191.5 L346.5 191.3 L348 191.2 L349.5 191 L351 190.9 L352.5 190.7 L354 190.6 L355.5 190.5 L357 190.4 L358.5 190.3 L360 190.2 L361.5 190.1 L363 190 L364.5 190 L366 189.9 L367.5 189.8 L369 189.7 L370.5 189.6 L372 189.6 L373.5 189.5 L375 189.4 L376.5 189.3 L378 189.3 L379.5 189.2 L381 189.1 L382.5 189.1 L384 189 L385.5 189 L387 188.9 L388.5 188.9 L390 188.9 L391.5 188.8 L393 188.8 L394.5 188.8 L396 188.8 L397.5 188.7 L399 188.7 L400.5 188.7 L402 188.7 L403.5 188.7 L405 188.7 L406.5 188.8 L408 188.8 L409.5 188.8 L411 188.8 L412.5 188.9 L414 188.9 L415.5 188.9 L417 189 L418.5 189 L420 189.1 L421 189.1" stroke="#000" stroke-width="1.3" fill="none" stroke-linecap="round" stroke-linejoin="round"/>
<path d="M49 356.1 L50.5 353.7 L52 351.3 L53.5 348.8 L55 346.3 L56.5 343.7 L58 341 L59.5 338.3 L61 335.7 L62.5 333.3 L64 330.9 L65.5 328.6 L67 326.2 L68.5 323.9 L70 321.6 L71.5 319.3 L73 317 L74.5 314.7 L76 312.5 L77.5 310.2 L79 308 L80.5 305.8 L82 303.7 L83.5 301.6 L85 299.6 L86.5 297.6 L88 295.7 L89.5 293.9 L91 292.1 L92.5 290.4 L94 288.7 L95.5 287.1 L97 285.6 L98.5 284.2 L100 282.8 L101.5 281.6 L103 280.3 L104.5 279.1 L106 277.9 L107.5 276.8 L109 275.7 L110.5 274.6 L112 273.6 L113.5 272.6 L115 271.6 L116.5 270.6 L118 269.7 L119.5 268.7 L121 267.8 L122.5 266.9 L124 266 L125.5 265.1 L127 264.2 L128.5 263.3 L130 262.3 L131.5 261.4 L133 260.4 L134.5 259.4 L136 258.3 L137.5 257.3 L139 256.3 L140.5 255.3 L142 254.3 L143.5 253.3 L145 252.3 L146.5 251.3 L148 250.4 L149.5 249.5 L151 248.6 L152.5 247.7 L154 246.8 L155.5 245.9 L157 245 L158.5 244.1 L160 243.3 L161.5 242.4 L163 241.6 L164.5 240.7 L166 239.9 L167.5 239 L169 238.2 L170.5 237.4 L172 236.6 L173.5 235.8 L175 235 L176.5 234.2 L178 233.4 L179.5 232.7 L181 231.9 L182.5 231.2 L184 230.5 L185.5 229.8 L187 229.1 L188.5 228.4 L190 227.8 L191.5 227.1 L193 226.4 L194.5 225.7 L196 225.1 L197.5 224.4 L199 223.7 L200.5 222.9 L202 222.1 L203.5 221.2 L205 220.4 L206.5 219.6 L208 218.7 L209.5 217.9 L211 217.1 L212.5 216.3 L214 215.6 L215.5 214.8 L217 214.1 L218.5 213.4 L220 212.6 L221.5 211.9 L223 211.3 L224.5 210.6 L226 209.9 L227.5 209.3 L229 208.7 L230.5 208.2 L232 207.6 L233.5 207.2 L235 206.7 L236.5 206.2 L238 205.8 L239.5 205.3 L241 204.9 L242.5 204.5 L244 204.1 L245.5 203.7 L247 203.4 L248.5 203 L250 202.7 L251.5 202.4 L253 202 L254.5 201.7 L256 201.4 L257.5 201.1 L259 200.8 L260.5 200.6 L262 200.3 L263.5 200 L263.6 200" stroke="#000" stroke-width="1.3" fill="none" stroke-linecap="round" stroke-linejoin="round"/>
<path d="M49 357.3 L50.5 354.4 L52 351.5 L53.5 348.7 L55 345.9 L56.5 343.2 L58 340.5 L59.5 337.8 L61 335.2 L62.5 332.6 L64 330.1 L65.5 327.6 L67 325.1 L68.5 322.8 L70 320.4 L71.5 318.1 L73 315.9 L74.5 313.7 L76 311.5 L77.5 309.4 L79 307.4 L80.5 305.4 L82 303.5 L83.5 301.6 L85 299.8 L86.5 298 L88 296.3 L89.5 294.6 L91 293 L92.5 291.5 L94 289.9 L95.5 288.5 L97 287 L98.5 285.6 L100 284.3 L101.5 283 L103 281.7 L104.5 280.4 L106 279.2 L107.5 278 L109 276.8 L110.5 275.6 L112 274.4 L113.5 273.3 L115 272.2 L116.5 271.1 L118 270 L119.5 268.9 L121 267.8 L122.5 266.7 L124 265.7 L125.5 264.6 L127 263.6 L128.5 262.5 L130 261.5 L131.5 260.5 L133 259.5 L134.5 258.5 L136 257.5 L137.5 256.5 L139 255.6 L140.5 254.6 L142 253.6 L143.5 252.7 L145 251.8 L146.5 250.9 L148 249.9 L149.5 249 L151 248.1 L152.5 247.3 L154 246.4 L155.5 245.5 L157 244.6 L158.5 243.8 L160 242.9 L161.5 242.1 L163 241.3 L164.5 240.5 L166 239.6 L167.5 238.8 L169 238 L170.5 237.3 L172 236.5 L173.5 235.7 L175 234.9 L176.5 234.2 L178 233.4 L179.5 232.7 L181 231.9 L182.5 231.2 L184 230.5 L185.5 229.8 L187 229 L188.5 228.3 L190 227.6 L191.5 227 L193 226.3 L194.5 225.6 L196 224.9 L197.5 224.3 L199 223.6 L200.5 223 L202 222.3 L203.5 221.7 L205 221.1 L206.5 220.4 L208 219.8 L209.5 219.2 L211 218.6 L212.5 218 L214 217.5 L215.5 216.9 L217 216.3 L218.5 215.7 L220 215.2 L221.5 214.6 L223 214.1 L224.5 213.6 L226 213 L227.5 212.5 L229 212 L230.5 211.5 L232 211 L233.5 210.5 L235 210 L236.5 209.5 L238 209 L239.5 208.6 L241 208.1 L242.5 207.6 L244 207.2 L245.5 206.8 L247 206.3 L248.5 205.9 L250 205.5 L251.5 205.1 L253 204.7 L254.5 204.3 L256 203.9 L257.5 203.5 L259 203.1 L260.5 202.7 L262 202.3 L263.5 202 L265 201.6 L266.5 201.3 L268 200.9 L269.5 200.6 L271 200.3 L272.5 200 L274 199.6 L275.5 199.3 L277 199 L278.5 198.7 L280 198.5 L281.5 198.2 L283 197.9 L284.5 197.6 L286 197.4 L287.5 197.1 L289 196.9 L290.5 196.6 L292 196.4 L293.5 196.2 L295 195.9 L296.5 195.7 L298 195.5 L299.5 195.3 L301 195.1 L302.5 194.9 L304 194.8 L305.5 194.6 L307 194.4 L308.5 194.2 L310 194.1 L311.5 193.9 L313 193.8 L314.5 193.7 L316 193.5 L317.5 193.4 L319 193.3 L320.5 193.2 L322 193.1 L323.5 193 L325 192.9 L326.5 192.8 L328 192.7 L329.5 192.6 L331 192.6 L332.5 192.5 L334 192.5 L335.5 192.4 L337 192.4 L338.5 192.3 L340 192.3 L341.5 192.3 L343 192.3 L344.5 192.3 L346 192.2 L347.5 192.3 L349 192.3 L350.5 192.3 L352 192.3 L353.5 192.3 L355 192.4 L356.5 192.4 L358 192.4 L359.5 192.5 L361 192.6 L362.5 192.6 L364 192.7 L365.5 192.8 L367 192.9 L368.5 193 L370 193 L371.5 193.2 L373 193.3 L374.5 193.4 L376 193.5 L377.5 193.6 L379 193.8 L380.5 193.9 L382 194 L383.5 194.2 L385 194.4 L386.5 194.5 L388 194.7 L389.5 194.9 L391 195.1 L392.5 195.2 L394 195.4 L395.5 195.6 L397 195.8 L398.5 196.1 L400 196.3 L401.5 196.5 L403 196.7 L404.5 197 L406 197.2 L407.5 197.5 L409 197.7 L410.5 198 L412 198.3 L413.5 198.5 L415 198.8 L416.5 199.1 L418 199.4 L419.5 199.7 L421 200 L422.5 200.3 L424 200.6 L425.5 200.9 L427 201.3 L428.5 201.6 L430 201.9 L431.5 202.3 L433 202.6 L434.5 203 L436 203.4 L437.5 203.7 L439 204.1 L440.5 204.5 L442 204.9 L443.5 205.3 L445 205.7 L446.5 206.1 L448 206.5 L449.5 206.9 L451 207.3 L452.5 207.7 L454 208.2 L455.5 208.6 L457 209.1 L458.5 209.5 L460 210 L461.5 210.4 L463 210.9 L464.5 211.4 L466 211.9 L467.5 212.3 L469 212.8 L470.5 213.3 L472 213.8 L473.5 214.3 L475 214.9 L476.5 215.4 L478 215.9 L479.5 216.4 L481 217 L482.5 217.5 L484 218.1 L485.5 218.6 L487 219.2 L488.5 219.7 L490 220.3 L491.5 220.9 L493 221.5 L494.5 222.1 L496 222.7 L497.5 223.3 L499 223.9 L500.5 224.5 L502 225.1 L503.5 225.7 L505 226.3 L506.5 227 L508 227.6 L509.5 228.3 L511 228.9 L512.5 229.6 L514 230.2 L515.5 230.9 L517 231.6 L518.5 232.2 L520 232.9 L521.5 233.6 L523 234.3 L524.5 235 L526 235.7 L527.5 236.4 L529 237.1 L530.5 237.9 L532 238.6 L533.5 239.3 L535 240.1 L536.5 240.8 L538 241.6 L539.5 242.3 L541 243.1 L542.5 243.8 L544 244.6 L545.5 245.4 L547 246.2 L548.5 247 L550 247.8 L551.5 248.6 L553 249.4 L554.5 250.2 L556 251 L557.5 251.8 L559 252.6 L560.5 253.5 L562 254.3 L563.5 255.1 L565 256 L566.5 256.8 L568 257.7 L569.5 258.6 L571 259.4 L572.5 260.3 L574 261.2 L575.5 262.1 L577 262.9 L578.5 263.8 L580 264.7 L581.5 265.6 L583 266.6 L584.5 267.5 L586 268.4 L587.5 269.3 L589 270.2 L590.5 271.2 L592 272.1 L593.5 273.1 L595 274 L596.5 275 L598 275.9 L599.3 276.8" stroke="#000" stroke-width="1.3" fill="none" stroke-linecap="round" stroke-linejoin="round"/>
<path d="M47.5 355.9 L49 353.8 L50.5 351.7 L52 349.5 L53.5 347.2 L55 344.8 L56.5 342.2 L58 339.7 L59.5 337.2 L61 334.7 L62.5 332.3 L64 330 L65.5 327.6 L67 325.3 L68.5 322.9 L70 320.6 L71.5 318.3 L73 316 L74.5 313.7 L76 311.4 L77.5 309.2 L79 306.9 L80.5 304.7 L82 302.6 L83.5 300.5 L85 298.4 L86.5 296.5 L88 294.5 L89.5 292.7 L91 290.8 L92.5 289.1 L94 287.3 L95.5 285.7 L97 284.2 L98.5 282.8 L100 281.4 L101.5 280.1 L103 278.8 L104.5 277.6 L106 276.4 L107.5 275.3 L109 274.1 L110.5 273 L112 272 L113.5 270.9 L115 269.9 L116.5 268.9 L118 268 L119.5 267 L121 266.1 L122.5 265.1 L124 264.2 L125.5 263.2 L127 262.3 L128.5 261.4 L130 260.4 L131.5 259.4 L133 258.4 L134.5 257.4 L136 256.3 L137.5 255.3 L139 254.3 L140.5 253.2 L142 252.2 L143.5 251.2 L145 250.2 L146.5 249.2 L148 248.3 L149.5 247.3 L151 246.4 L152.5 245.4 L154 244.5 L155.5 243.6 L157 242.7 L158.5 241.8 L160 240.9 L161.5 240 L163 239.2 L164.5 238.3 L166 237.5 L167.5 236.6 L169 235.8 L170.5 235 L172 234.2 L173.5 233.4 L175 232.6 L176.5 231.8 L178 231.1 L179.5 230.3 L181 229.6 L182.5 228.9 L184 228.3 L185.5 227.6 L187 226.9 L188.5 226.2 L190 225.6 L191.5 224.9 L193 224.2 L194.5 223.4 L196 222.7 L197.5 222 L199 221.2 L200.5 220.5 L202 219.7 L203.5 219 L205 218.2 L206.5 217.5 L208 216.7 L209.5 216 L211 215.3 L212.5 214.6 L214 214 L215.5 213.3 L217 212.6 L218.5 212 L220 211.3 L221.5 210.7 L223 210.1 L224.5 209.4 L226 208.9 L227.5 208.3 L229 207.8 L230.5 207.3 L232 206.9 L233.5 206.4 L235 206 L236.5 205.6 L238 205.2 L239.5 204.8 L241 204.5 L242.5 204.1 L244 203.8 L245.5 203.4 L247 203.1 L248.5 202.8 L250 202.5 L251.5 202.2 L253 201.9 L254.5 201.6 L256 201.3 L257.5 201.1 L259 200.8 L260.5 200.5 L262 200.3 L263.5 200 L263.6 200" stroke="#000" stroke-width="1.3" fill="none" stroke-linecap="round" stroke-linejoin="round"/>
<path d="M46.5 355.1 L48 352.7 L49.5 350.3 L51 347.9 L52.5 345.5 L54 343.1 L55.5 340.7 L57 338.3 L58.5 335.9 L60 333.5 L61.5 331.2 L63 328.8 L64.5 326.5 L66 324.1 L67.5 321.8 L69 319.6 L70.5 317.3 L72 315.1 L73.5 312.9 L75 310.7 L76.5 308.5 L78 306.4 L79.5 304.4 L81 302.3 L82.5 300.3 L84 298.4 L85.5 296.5 L87 294.6 L88.5 292.8 L90 291.1 L91.5 289.4 L93 287.7 L94.5 286.1 L96 284.5 L97.5 283 L99 281.5 L100.5 280 L102 278.6 L103.5 277.2 L105 275.9 L106.5 274.5 L108 273.2 L109.5 272 L111 270.7 L112.5 269.5 L114 268.3 L115.5 267.2 L117 266 L118.5 264.9 L120 263.8 L121.5 262.7 L123 261.6 L124.5 260.5 L126 259.5 L127.5 258.4 L129 257.4 L130.5 256.4 L132 255.4 L133.5 254.3 L135 253.3 L136.5 252.3 L138 251.3 L139.5 250.3 L141 249.3 L142.5 248.3 L144 247.4 L145.5 246.4 L147 245.4 L148.5 244.5 L150 243.5 L151.5 242.6 L153 241.6 L154.5 240.7 L156 239.8 L157.5 238.9 L159 238 L160.5 237.1 L162 236.2 L163.5 235.3 L165 234.4 L166.5 233.6 L168 232.7 L169.5 231.9 L171 231.1 L172.5 230.2 L174 229.4 L175.5 228.6 L177 227.9 L178.5 227.1 L180 226.3 L181.5 225.6 L183 224.8 L184.5 224.1 L186 223.4 L187.5 222.7 L189 222 L190.5 221.3 L192 220.6 L193.5 220 L195 219.3 L196.5 218.7 L198 218.1 L199.5 217.5 L201 216.9 L202.5 216.3 L204 215.7 L205.5 215.2 L207 214.7 L208.5 214.1 L210 213.6 L211.5 213.1 L213 212.6 L214.5 212.1 L216 211.7 L217.5 211.2 L219 210.7 L220.5 210.3 L222 209.9 L223.5 209.4 L225 209 L226.5 208.6 L228 208.2 L229.5 207.8 L231 207.5 L232.5 207.1 L234 206.7 L235.5 206.4 L237 206 L238.5 205.7 L240 205.3 L241.5 205 L243 204.7 L244.5 204.4 L246 204 L247.5 203.7 L249 203.4 L250.5 203.1 L252 202.8 L253.5 202.5 L255 202.2 L256.5 202 L258 201.7 L259.5 201.4 L261 201.1 L262.5 200.9 L264 200.6 L265.5 200.3 L267 200 L268.5 199.8 L270 199.5 L271.5 199.3 L273 199 L274.5 198.7 L276 198.5 L277.5 198.2 L279 198 L280.5 197.7 L282 197.5 L283.5 197.3 L285 197 L286.5 196.8 L288 196.5 L289.5 196.3 L291 196.1 L292.5 195.9 L294 195.6 L295.5 195.4 L297 195.2 L298.5 195 L300 194.8 L301.5 194.5 L303 194.3 L304.5 194.1 L306 193.9 L307.5 193.7 L309 193.5 L310.5 193.3 L312 193.1 L313.5 193 L315 192.8 L316.5 192.6 L318 192.4 L319.5 192.2 L321 192.1 L322.5 191.9 L324 191.7 L325.5 191.5 L327 191.4 L328.5 191.2 L330 191.1 L331.5 190.9 L333 190.8 L334.5 190.6 L336 190.5 L337.5 190.3 L339 190.2 L340.5 190.1 L342 189.9 L343.5 189.8 L345 189.7 L346.5 189.6 L348 189.5 L349.5 189.3 L351 189.2 L352.5 189.1 L354 189 L355.5 188.9 L357 188.8 L358.5 188.7 L360 188.7 L361.5 188.6 L363 188.5 L364.5 188.4 L366 188.3 L367.5 188.3 L369 188.2 L370.5 188.1 L372 188.1 L373.5 188 L375 188 L376.5 187.9 L378 187.9 L379.5 187.9 L381 187.8 L382.5 187.8 L384 187.8 L385.5 187.8 L387 187.7 L388.5 187.7 L390 187.7 L391.5 187.7 L393 187.7 L394.5 187.7 L396 187.7 L397.5 187.7 L399 187.8 L400.5 187.8 L402 187.8 L403.5 187.8 L405 187.9 L406.5 187.9 L408 188 L409.5 188 L411 188.1 L412.5 188.1 L414 188.2 L415.5 188.2 L417 188.3 L418.5 188.4 L420 188.5 L421.5 188.6 L423 188.6 L424.5 188.7 L426 188.8 L427.5 188.9 L429 189.1 L430.5 189.2 L432 189.3 L433.5 189.4 L435 189.5 L436.5 189.7 L438 189.8 L439.5 190 L441 190.1 L442.5 190.3 L444 190.4 L445.5 190.6 L447 190.8 L448.5 190.9 L450 191.1 L451.5 191.3 L453 191.5 L454.5 191.7 L456 191.9 L457.5 192.1 L459 192.3 L460.5 192.5 L462 192.7 L463.5 193 L465 193.2 L466.5 193.4 L468 193.7 L469.5 193.9 L471 194.2 L472.5 194.4 L474 194.7 L475.5 195 L477 195.3 L478.5 195.5 L480 195.8 L481.5 196.1 L483 196.4 L484.5 196.7 L486 197.1 L487.5 197.4 L489 197.7 L490.5 198 L492 198.4 L493.5 198.7 L495 199 L496.5 199.4 L498 199.7 L499.5 200.1 L501 200.5 L502.5 200.9 L504 201.2 L505.5 201.6 L507 202 L508.5 202.4 L510 202.8 L511.5 203.2 L513 203.6 L514.5 204 L516 204.5 L517.5 204.9 L519 205.3 L520.5 205.8 L522 206.2 L523.5 206.7 L525 207.1 L526.5 207.6 L528 208.1 L529.5 208.6 L531 209 L532.5 209.5 L534 210 L535.5 210.5 L537 211 L538.5 211.5 L540 212 L541.5 212.6 L543 213.1 L544.5 213.6 L546 214.2 L547.5 214.7 L549 215.3 L550.5 215.8 L552 216.4 L553.5 217 L555 217.5 L556.5 218.1 L558 218.7 L559.5 219.3 L561 219.9 L562.5 220.5 L564 221.1 L565.5 221.7 L567 222.3 L568.5 223 L570 223.6 L571.5 224.2 L573 224.9 L574.5 225.5 L576 226.2 L577.5 226.9 L579 227.5 L580.5 228.2 L582 228.9 L583.5 229.6 L585 230.3 L586.5 231 L588 231.7 L589.5 232.4 L591 233.1 L592.5 233.8 L594 234.5 L595.5 235.3 L597 236 L598.5 236.8 L600 237.5 L601.5 238.3 L603 239 L604.5 239.8 L606 240.6 L607.5 241.4 L609 242.1 L610.5 242.9 L612 243.7 L613.5 244.5 L615 245.4 L616.5 246.2 L618 247 L619.5 247.8 L621 248.7 L622.5 249.5 L624 250.4 L625.5 251.2 L627 252.1 L628.5 252.9 L630 253.8 L631.5 254.7 L633 255.6 L634.5 256.5 L636 257.4 L637.5 258.3 L639 259.2 L640.5 260.1 L642 261 L643.5 261.9 L645 262.9 L646.5 263.8 L648 264.7 L649.5 265.7 L651 266.6 L652.5 267.6 L654 268.6 L655.5 269.5 L657 270.5 L658.5 271.5 L660 272.5 L661.5 273.5 L663 274.5 L664.5 275.5 L666 276.5 L667.5 277.6 L669 278.6 L670.5 279.6 L672 280.7 L673.5 281.7 L675 282.8 L676.5 283.8 L678 284.9 L679.5 286 L681 287.1 L682.5 288.2 L684 289.2 L685 290" stroke="#000" stroke-width="2.1" fill="none" stroke-linecap="round" stroke-linejoin="round"/>
<path d="M31 510.6 L153.5 434.1 L263 434.1" stroke="#c9def2" stroke-width="3.5" fill="none" stroke-linejoin="round" stroke-opacity="0.55"/>
<path d="M262 434.1 L685.5 434.1" stroke="#c9def2" stroke-width="4.2" fill="none" stroke-linejoin="round" stroke-opacity="0.55"/>
<path d="M31 530 L135.4 488 L599 488" stroke="#c9def2" stroke-width="3.5" fill="none" stroke-linejoin="round" stroke-opacity="0.55"/>
<path d="M31 559.1 L96.1 542.2 L453.7 542.2" stroke="#c9def2" stroke-width="3.5" fill="none" stroke-linejoin="round" stroke-opacity="0.55"/>
<path d="M31 535 L33 534.1 L35 533.1 L37 532.2 L39 531.3 L41 530.4 L43 529.5 L45 528.6 L47 527.7 L49 526.8 L51 525.9 L53 525 L55 524.2 L57 523.3 L59 522.4 L61 521.6 L63 520.7 L65 519.9 L67 519 L69 518.1 L71 517.3 L73 516.5 L75 515.6 L77 514.8 L79 514 L81 513.1 L83 512.3 L85 511.5 L87 510.6 L89 509.8 L91 509 L93 508.2 L95 507.4 L97 506.6 L99 505.7 L101 504.9 L103 504.1 L105 503.3 L107 502.5 L109 501.7 L111 500.9 L113 500.1 L115 499.3 L117 498.5 L119 497.7 L121 496.9 L123 496.1 L125 495.3 L127 494.5 L129 493.7 L131 492.9 L133 492.1 L135 491.3 L137 490.5 L139 489.7 L141 488.9 L143 488.1 L145 487.3 L147 486.5 L149 485.7 L151 484.9 L153 484 L155 483.2 L157 482.4 L159 481.6 L161 480.8 L163 480 L165 479.1 L167 478.3 L169 477.5 L171 476.6 L173 475.8 L175 475 L177 474.1 L179 473.3 L181 472.4 L183 471.6 L185 470.7 L187 469.9 L189 469 L191 468.2 L193 467.3 L195 466.4 L197 465.6 L199 464.7 L201 463.8 L203 462.9 L205 462 L207 461.1 L209 460.2 L211 459.3 L213 458.4 L215 457.5 L217 456.5 L219 455.6 L221 454.7 L223 453.7 L225 452.8 L227 451.8 L229 450.9 L231 449.9 L233 448.9 L235 447.9 L237 447 L239 446 L241 445 L243 444 L245 442.9 L247 441.9 L249 440.9 L251 439.9 L253 438.8 L255 437.8 L257 436.7 L259 435.6 L261 434.6 L261.5 434.3" stroke="#c9def2" stroke-width="3.5" fill="none" stroke-linejoin="round" stroke-opacity="0.55"/>
<path d="M31 571 L33 570.4 L35 569.7 L37 569.1 L39 568.5 L41 567.8 L43 567.2 L45 566.5 L47 565.8 L49 565.1 L51 564.4 L53 563.7 L55 563 L57 562.2 L59 561.5 L61 560.7 L63 560 L65 559.2 L67 558.4 L69 557.6 L71 556.8 L73 556 L75 555.2 L77 554.3 L79 553.5 L81 552.6 L83 551.8 L85 550.9 L87 550 L89 549.1 L91 548.2 L93 547.3 L95 546.4 L97 545.5 L99 544.6 L101 543.6 L103 542.7 L105 541.7 L107 540.7 L109 539.7 L111 538.7 L113 537.7 L115 536.7 L117 535.7 L119 534.7 L121 533.6 L123 532.6 L125 531.5 L127 530.5 L129 529.4 L131 528.3 L133 527.2 L135 526.1 L137 525 L139 523.9 L141 522.8 L143 521.6 L145 520.5 L147 519.3 L149 518.2 L151 517 L153 515.8 L155 514.6 L157 513.4 L159 512.2 L161 511 L163 509.8 L165 508.6 L167 507.3 L169 506.1 L171 504.8 L173 503.6 L175 502.3 L177 501 L179 499.7 L181 498.4 L183 497.1 L185 495.8 L187 494.4 L189 493.1 L191 491.8 L193 490.4 L195 489 L197 487.6 L199 486.2 L201 484.8 L203 483.4 L205 482 L207 480.5 L209 479 L211 477.6 L213 476.1 L215 474.6 L217 473.1 L219 471.6 L221 470 L223 468.5 L225 466.9 L227 465.3 L229 463.7 L231 462.1 L233 460.5 L235 458.9 L237 457.2 L239 455.6 L241 453.9 L243 452.2 L245 450.5 L247 448.8 L249 447 L251 445.3 L253 443.5 L255 441.7 L257 439.9 L259 438.1 L261 436.2 L262.5 434.8" stroke="#c9def2" stroke-width="4.0" fill="none" stroke-linejoin="round" stroke-opacity="0.55"/>
<path d="M31 560.7 L33 560.2 L35 559.6 L37 559.1 L39 558.6 L41 558 L43 557.5 L45 557 L47 556.4 L49 555.9 L51 555.4 L53 554.8 L55 554.3 L57 553.8 L59 553.2 L61 552.7 L63 552.2 L65 551.6 L67 551.1 L69 550.5 L71 550 L73 549.4 L75 548.9 L77 548.4 L79 547.8 L81 547.3 L83 546.7 L85 546.2 L87 545.6 L89 545.1 L91 544.5 L93 544 L95 543.4 L97 542.9 L99 542.3 L101 541.8 L103 541.2 L105 540.7 L107 540.1 L109 539.6 L111 539 L113 538.4 L115 537.9 L117 537.3 L119 536.8 L121 536.2 L123 535.6 L125 535.1 L127 534.5 L129 533.9 L131 533.4 L133 532.8 L135 532.2 L137 531.6 L139 531.1 L141 530.5 L143 529.9 L145 529.3 L147 528.8 L149 528.2 L151 527.6 L153 527 L155 526.4 L157 525.8 L159 525.3 L161 524.7 L163 524.1 L165 523.5 L167 522.9 L169 522.3 L171 521.7 L173 521.1 L175 520.5 L177 519.9 L179 519.3 L181 518.7 L183 518.1 L185 517.5 L187 516.9 L189 516.3 L191 515.7 L193 515.1 L195 514.4 L197 513.8 L199 513.2 L201 512.6 L203 512 L205 511.3 L207 510.7 L209 510.1 L211 509.5 L213 508.8 L215 508.2 L217 507.6 L219 506.9 L221 506.3 L223 505.7 L225 505 L227 504.4 L229 503.7 L231 503.1 L233 502.5 L235 501.8 L237 501.2 L239 500.5 L241 499.8 L243 499.2 L245 498.5 L247 497.9 L249 497.2 L251 496.5 L253 495.9 L255 495.2 L257 494.5 L259 493.9 L261 493.2 L263 492.5 L265 491.8 L267 491.1 L269 490.5 L271 489.8 L273 489.1 L275 488.4 L277 487.7 L279 487 L281 486.3 L283 485.6 L285 484.9 L287 484.2 L289 483.5 L291 482.8 L293 482.1 L295 481.4 L297 480.7 L299 479.9 L301 479.2 L303 478.5 L305 477.8 L307 477 L309 476.3 L311 475.6 L313 474.8 L315 474.1 L317 473.4 L319 472.6 L321 471.9 L323 471.1 L325 470.4 L327 469.6 L329 468.9 L331 468.1 L333 467.4 L335 466.6 L337 465.8 L339 465.1 L341 464.3 L343 463.5 L345 462.7 L347 462 L349 461.2 L351 460.4 L353 459.6 L355 458.8 L357 458 L359 457.2 L361 456.4 L363 455.6 L365 454.8 L367 454 L369 453.2 L371 452.4 L373 451.6 L375 450.8 L377 449.9 L379 449.1 L381 448.3 L383 447.5 L385 446.6 L387 445.8 L389 444.9 L391 444.1 L393 443.3 L395 442.4 L397 441.6 L399 440.7 L401 439.8 L403 439 L405 438.1 L407 437.2 L409 436.4 L411 435.5 L413 434.6 L415 433.7" stroke="#c9def2" stroke-width="3.5" fill="none" stroke-linejoin="round" stroke-opacity="0.55"/>
<path d="M31 583.3 L33 583 L35 582.8 L37 582.5 L39 582.2 L41 581.9 L43 581.6 L45 581.3 L47 581 L49 580.7 L51 580.4 L53 580 L55 579.7 L57 579.4 L59 579.1 L61 578.7 L63 578.4 L65 578 L67 577.7 L69 577.3 L71 577 L73 576.6 L75 576.2 L77 575.9 L79 575.5 L81 575.1 L83 574.7 L85 574.3 L87 573.9 L89 573.5 L91 573.1 L93 572.7 L95 572.3 L97 571.9 L99 571.5 L101 571 L103 570.6 L105 570.2 L107 569.7 L109 569.3 L111 568.8 L113 568.4 L115 567.9 L117 567.4 L119 567 L121 566.5 L123 566 L125 565.5 L127 565 L129 564.5 L131 564 L133 563.5 L135 563 L137 562.5 L139 562 L141 561.5 L143 560.9 L145 560.4 L147 559.9 L149 559.3 L151 558.8 L153 558.2 L155 557.7 L157 557.1 L159 556.5 L161 556 L163 555.4 L165 554.8 L167 554.2 L169 553.6 L171 553 L173 552.4 L175 551.8 L177 551.2 L179 550.6 L181 549.9 L183 549.3 L185 548.7 L187 548 L189 547.4 L191 546.7 L193 546.1 L195 545.4 L197 544.7 L199 544.1 L201 543.4 L203 542.7 L205 542 L207 541.3 L209 540.6 L211 539.9 L213 539.2 L215 538.5 L217 537.8 L219 537.1 L221 536.3 L223 535.6 L225 534.9 L227 534.1 L229 533.4 L231 532.6 L233 531.8 L235 531.1 L237 530.3 L239 529.5 L241 528.7 L243 527.9 L245 527.2 L247 526.3 L249 525.5 L251 524.7 L253 523.9 L255 523.1 L257 522.3 L259 521.4 L261 520.6 L263 519.7 L265 518.9 L267 518 L269 517.2 L271 516.3 L273 515.4 L275 514.6 L277 513.7 L279 512.8 L281 511.9 L283 511 L285 510.1 L287 509.2 L289 508.2 L291 507.3 L293 506.4 L295 505.5 L297 504.5 L299 503.6 L301 502.6 L303 501.6 L305 500.7 L307 499.7 L309 498.7 L311 497.8 L313 496.8 L315 495.8 L317 494.8 L319 493.8 L321 492.8 L323 491.7 L325 490.7 L327 489.7 L329 488.6 L331 487.6 L333 486.6 L335 485.5 L337 484.4 L339 483.4 L341 482.3 L343 481.2 L345 480.1 L347 479.1 L349 478 L351 476.9 L353 475.7 L355 474.6 L357 473.5 L359 472.4 L361 471.3 L363 470.1 L365 469 L367 467.8 L369 466.7 L371 465.5 L373 464.3 L375 463.2 L377 462 L379 460.8 L381 459.6 L383 458.4 L385 457.2 L387 456 L389 454.7 L391 453.5 L393 452.3 L395 451.1 L397 449.8 L399 448.6 L401 447.3 L403 446 L405 444.8 L407 443.5 L409 442.2 L411 440.9 L413 439.6 L415 438.3 L417 437 L419 435.7 L421 434.4 L421.6 434" stroke="#c9def2" stroke-width="3.5" fill="none" stroke-linejoin="round" stroke-opacity="0.55"/>
<path d="M31 583 L33 582.7 L35 582.5 L37 582.2 L39 581.9 L41 581.6 L43 581.3 L45 581 L47 580.7 L49 580.4 L51 580.1 L53 579.9 L55 579.6 L57 579.3 L59 579 L61 578.7 L63 578.4 L65 578.2 L67 577.9 L69 577.6 L71 577.3 L73 577 L75 576.8 L77 576.5 L79 576.2 L81 575.9 L83 575.6 L85 575.4 L87 575.1 L89 574.8 L91 574.5 L93 574.3 L95 574 L97 573.7 L99 573.4 L101 573.2 L103 572.9 L105 572.6 L107 572.3 L109 572 L111 571.8 L113 571.5 L115 571.2 L117 570.9 L119 570.7 L121 570.4 L123 570.1 L125 569.8 L127 569.5 L129 569.3 L131 569 L133 568.7 L135 568.4 L137 568.1 L139 567.9 L141 567.6 L143 567.3 L145 567 L147 566.7 L149 566.4 L151 566.1 L153 565.8 L155 565.6 L157 565.3 L159 565 L161 564.7 L163 564.4 L165 564.1 L167 563.8 L169 563.5 L171 563.2 L173 562.9 L175 562.6 L177 562.3 L179 562 L181 561.7 L183 561.4 L185 561.1 L187 560.8 L189 560.5 L191 560.2 L193 559.9 L195 559.5 L197 559.2 L199 558.9 L201 558.6 L203 558.3 L205 557.9 L207 557.6 L209 557.3 L211 557 L213 556.6 L215 556.3 L217 556 L219 555.6 L221 555.3 L223 555 L225 554.6 L227 554.3 L229 553.9 L231 553.6 L233 553.3 L235 552.9 L237 552.6 L239 552.2 L241 551.8 L243 551.5 L245 551.1 L247 550.8 L249 550.4 L251 550 L253 549.6 L255 549.3 L257 548.9 L259 548.5 L261 548.1 L263 547.8 L265 547.4 L267 547 L269 546.6 L271 546.2 L273 545.8 L275 545.4 L277 545 L279 544.6 L281 544.2 L283 543.8 L285 543.4 L287 542.9 L289 542.5 L291 542.1 L293 541.7 L295 541.2 L297 540.8 L299 540.4 L301 539.9 L303 539.5 L305 539 L307 538.6 L309 538.1 L311 537.7 L313 537.2 L315 536.8 L317 536.3 L319 535.8 L321 535.4 L323 534.9 L325 534.4 L327 533.9 L329 533.4 L331 532.9 L333 532.4 L335 531.9 L337 531.4 L339 530.9 L341 530.4 L343 529.9 L345 529.4 L347 528.9 L349 528.4 L351 527.8 L353 527.3 L355 526.8 L357 526.2 L359 525.7 L361 525.2 L363 524.6 L365 524.1 L367 523.5 L369 522.9 L371 522.4 L373 521.8 L375 521.2 L377 520.7 L379 520.1 L381 519.5 L383 518.9 L385 518.4 L387 517.8 L389 517.2 L391 516.6 L393 516 L395 515.4 L397 514.8 L399 514.1 L401 513.5 L403 512.9 L405 512.3 L407 511.7 L409 511 L411 510.4 L413 509.8 L415 509.1 L417 508.5 L419 507.8 L421 507.2 L423 506.5 L425 505.9 L427 505.2 L429 504.5 L431 503.9 L433 503.2 L435 502.5 L437 501.8 L439 501.1 L441 500.5 L443 499.8 L445 499.1 L447 498.4 L449 497.7 L451 497 L453 496.2 L455 495.5 L457 494.8 L459 494.1 L461 493.4 L463 492.6 L465 491.9 L467 491.2 L469 490.4 L471 489.7 L473 488.9 L475 488.2 L477 487.4 L479 486.7 L481 485.9 L483 485.2 L485 484.4 L487 483.6 L489 482.8 L491 482.1 L493 481.3 L495 480.5 L497 479.7 L499 478.9 L501 478.1 L503 477.3 L505 476.5 L507 475.7 L509 474.9 L511 474.1 L513 473.2 L515 472.4 L517 471.6 L519 470.7 L521 469.9 L523 469.1 L525 468.2 L527 467.4 L529 466.5 L531 465.7 L533 464.8 L535 464 L537 463.1 L539 462.2 L541 461.3 L543 460.5 L545 459.6 L547 458.7 L549 457.8 L551 456.9 L553 456 L555 455.1 L557 454.2 L559 453.3 L561 452.4 L563 451.5 L565 450.6 L567 449.7 L569 448.7 L571 447.8 L573 446.9 L575 445.9 L577 445 L579 444 L581 443.1 L583 442.1 L585 441.2 L587 440.2 L589 439.3 L591 438.3 L593 437.3 L595 436.4 L597 435.4 L599 434.4" stroke="#c9def2" stroke-width="3.3000000000000003" fill="none" stroke-linejoin="round" stroke-opacity="0.55"/>
<path d="M31 586.2 L33 586.2 L35 586.3 L37 586.3 L39 586.3 L41 586.3 L43 586.3 L45 586.3 L47 586.2 L49 586.2 L51 586.2 L53 586.2 L55 586.2 L57 586.1 L59 586.1 L61 586.1 L63 586 L65 586 L67 585.9 L69 585.9 L71 585.8 L73 585.8 L75 585.7 L77 585.6 L79 585.6 L81 585.5 L83 585.4 L85 585.3 L87 585.3 L89 585.2 L91 585.1 L93 585 L95 584.9 L97 584.8 L99 584.7 L101 584.6 L103 584.5 L105 584.3 L107 584.2 L109 584.1 L111 584 L113 583.8 L115 583.7 L117 583.5 L119 583.4 L121 583.3 L123 583.1 L125 583 L127 582.8 L129 582.6 L131 582.5 L133 582.3 L135 582.1 L137 581.9 L139 581.8 L141 581.6 L143 581.4 L145 581.2 L147 581 L149 580.8 L151 580.6 L153 580.4 L155 580.2 L157 579.9 L159 579.7 L161 579.5 L163 579.3 L165 579 L167 578.8 L169 578.6 L171 578.3 L173 578.1 L175 577.8 L177 577.6 L179 577.3 L181 577.1 L183 576.8 L185 576.5 L187 576.2 L189 576 L191 575.7 L193 575.4 L195 575.1 L197 574.8 L199 574.5 L201 574.2 L203 573.9 L205 573.6 L207 573.3 L209 573 L211 572.7 L213 572.3 L215 572 L217 571.7 L219 571.3 L221 571 L223 570.7 L225 570.3 L227 570 L229 569.6 L231 569.2 L233 568.9 L235 568.5 L237 568.1 L239 567.8 L241 567.4 L243 567 L245 566.6 L247 566.2 L249 565.8 L251 565.4 L253 565 L255 564.6 L257 564.2 L259 563.8 L261 563.4 L263 563 L265 562.6 L267 562.1 L269 561.7 L271 561.3 L273 560.8 L275 560.4 L277 559.9 L279 559.5 L281 559 L283 558.5 L285 558.1 L287 557.6 L289 557.1 L291 556.7 L293 556.2 L295 555.7 L297 555.2 L299 554.7 L301 554.2 L303 553.7 L305 553.2 L307 552.7 L309 552.2 L311 551.7 L313 551.2 L315 550.6 L317 550.1 L319 549.6 L321 549 L323 548.5 L325 547.9 L327 547.4 L329 546.8 L331 546.3 L333 545.7 L335 545.2 L337 544.6 L339 544 L341 543.4 L343 542.9 L345 542.3 L347 541.7 L349 541.1 L351 540.5 L353 539.9 L355 539.3 L357 538.7 L359 538.1 L361 537.5 L363 536.8 L365 536.2 L367 535.6 L369 535 L371 534.3 L373 533.7 L375 533 L377 532.4 L379 531.7 L381 531.1 L383 530.4 L385 529.7 L387 529.1 L389 528.4 L391 527.7 L393 527 L395 526.4 L397 525.7 L399 525 L401 524.3 L403 523.6 L405 522.9 L407 522.1 L409 521.4 L411 520.7 L413 520 L415 519.3 L417 518.5 L419 517.8 L421 517.1 L423 516.3 L425 515.6 L427 514.8 L429 514.1 L431 513.3 L433 512.5 L435 511.8 L437 511 L439 510.2 L441 509.4 L443 508.6 L445 507.9 L447 507.1 L449 506.3 L451 505.5 L453 504.7 L455 503.9 L457 503 L459 502.2 L461 501.4 L463 500.6 L465 499.7 L467 498.9 L469 498.1 L471 497.2 L473 496.4 L475 495.5 L477 494.7 L479 493.8 L481 492.9 L483 492.1 L485 491.2 L487 490.3 L489 489.4 L491 488.6 L493 487.7 L495 486.8 L497 485.9 L499 485 L501 484.1 L503 483.2 L505 482.2 L507 481.3 L509 480.4 L511 479.5 L513 478.5 L515 477.6 L517 476.7 L519 475.7 L521 474.8 L523 473.8 L525 472.9 L527 471.9 L529 470.9 L531 470 L533 469 L535 468 L537 467 L539 466 L541 465.1 L543 464.1 L545 463.1 L547 462.1 L549 461 L551 460 L553 459 L555 458 L557 457 L559 455.9 L561 454.9 L563 453.9 L565 452.8 L567 451.8 L569 450.7 L571 449.7 L573 448.6 L575 447.6 L577 446.5 L579 445.4 L581 444.3 L583 443.3 L585 442.2 L587 441.1 L589 440 L591 438.9 L593 437.8 L595 436.7 L597 435.6 L599 434.5 L599.5 434.2" stroke="#c9def2" stroke-width="4.0" fill="none" stroke-linejoin="round" stroke-opacity="0.55"/>
<path d="M31 510.6 L153.5 434.1 L263 434.1" stroke="#1b3149" stroke-width="1.3" fill="none" stroke-linejoin="round"/>
<path d="M262 434.1 L685.5 434.1" stroke="#1b3149" stroke-width="2.0" fill="none" stroke-linejoin="round"/>
<path d="M31 530 L135.4 488 L599 488" stroke="#1b3149" stroke-width="1.3" fill="none" stroke-linejoin="round"/>
<path d="M31 559.1 L96.1 542.2 L453.7 542.2" stroke="#1b3149" stroke-width="1.3" fill="none" stroke-linejoin="round"/>
<path d="M31 535 L33 534.1 L35 533.1 L37 532.2 L39 531.3 L41 530.4 L43 529.5 L45 528.6 L47 527.7 L49 526.8 L51 525.9 L53 525 L55 524.2 L57 523.3 L59 522.4 L61 521.6 L63 520.7 L65 519.9 L67 519 L69 518.1 L71 517.3 L73 516.5 L75 515.6 L77 514.8 L79 514 L81 513.1 L83 512.3 L85 511.5 L87 510.6 L89 509.8 L91 509 L93 508.2 L95 507.4 L97 506.6 L99 505.7 L101 504.9 L103 504.1 L105 503.3 L107 502.5 L109 501.7 L111 500.9 L113 500.1 L115 499.3 L117 498.5 L119 497.7 L121 496.9 L123 496.1 L125 495.3 L127 494.5 L129 493.7 L131 492.9 L133 492.1 L135 491.3 L137 490.5 L139 489.7 L141 488.9 L143 488.1 L145 487.3 L147 486.5 L149 485.7 L151 484.9 L153 484 L155 483.2 L157 482.4 L159 481.6 L161 480.8 L163 480 L165 479.1 L167 478.3 L169 477.5 L171 476.6 L173 475.8 L175 475 L177 474.1 L179 473.3 L181 472.4 L183 471.6 L185 470.7 L187 469.9 L189 469 L191 468.2 L193 467.3 L195 466.4 L197 465.6 L199 464.7 L201 463.8 L203 462.9 L205 462 L207 461.1 L209 460.2 L211 459.3 L213 458.4 L215 457.5 L217 456.5 L219 455.6 L221 454.7 L223 453.7 L225 452.8 L227 451.8 L229 450.9 L231 449.9 L233 448.9 L235 447.9 L237 447 L239 446 L241 445 L243 444 L245 442.9 L247 441.9 L249 440.9 L251 439.9 L253 438.8 L255 437.8 L257 436.7 L259 435.6 L261 434.6 L261.5 434.3" stroke="#1b3149" stroke-width="1.3" fill="none" stroke-linejoin="round"/>
<path d="M31 571 L33 570.4 L35 569.7 L37 569.1 L39 568.5 L41 567.8 L43 567.2 L45 566.5 L47 565.8 L49 565.1 L51 564.4 L53 563.7 L55 563 L57 562.2 L59 561.5 L61 560.7 L63 560 L65 559.2 L67 558.4 L69 557.6 L71 556.8 L73 556 L75 555.2 L77 554.3 L79 553.5 L81 552.6 L83 551.8 L85 550.9 L87 550 L89 549.1 L91 548.2 L93 547.3 L95 546.4 L97 545.5 L99 544.6 L101 543.6 L103 542.7 L105 541.7 L107 540.7 L109 539.7 L111 538.7 L113 537.7 L115 536.7 L117 535.7 L119 534.7 L121 533.6 L123 532.6 L125 531.5 L127 530.5 L129 529.4 L131 528.3 L133 527.2 L135 526.1 L137 525 L139 523.9 L141 522.8 L143 521.6 L145 520.5 L147 519.3 L149 518.2 L151 517 L153 515.8 L155 514.6 L157 513.4 L159 512.2 L161 511 L163 509.8 L165 508.6 L167 507.3 L169 506.1 L171 504.8 L173 503.6 L175 502.3 L177 501 L179 499.7 L181 498.4 L183 497.1 L185 495.8 L187 494.4 L189 493.1 L191 491.8 L193 490.4 L195 489 L197 487.6 L199 486.2 L201 484.8 L203 483.4 L205 482 L207 480.5 L209 479 L211 477.6 L213 476.1 L215 474.6 L217 473.1 L219 471.6 L221 470 L223 468.5 L225 466.9 L227 465.3 L229 463.7 L231 462.1 L233 460.5 L235 458.9 L237 457.2 L239 455.6 L241 453.9 L243 452.2 L245 450.5 L247 448.8 L249 447 L251 445.3 L253 443.5 L255 441.7 L257 439.9 L259 438.1 L261 436.2 L262.5 434.8" stroke="#1b3149" stroke-width="1.8" fill="none" stroke-linejoin="round"/>
<path d="M31 560.7 L33 560.2 L35 559.6 L37 559.1 L39 558.6 L41 558 L43 557.5 L45 557 L47 556.4 L49 555.9 L51 555.4 L53 554.8 L55 554.3 L57 553.8 L59 553.2 L61 552.7 L63 552.2 L65 551.6 L67 551.1 L69 550.5 L71 550 L73 549.4 L75 548.9 L77 548.4 L79 547.8 L81 547.3 L83 546.7 L85 546.2 L87 545.6 L89 545.1 L91 544.5 L93 544 L95 543.4 L97 542.9 L99 542.3 L101 541.8 L103 541.2 L105 540.7 L107 540.1 L109 539.6 L111 539 L113 538.4 L115 537.9 L117 537.3 L119 536.8 L121 536.2 L123 535.6 L125 535.1 L127 534.5 L129 533.9 L131 533.4 L133 532.8 L135 532.2 L137 531.6 L139 531.1 L141 530.5 L143 529.9 L145 529.3 L147 528.8 L149 528.2 L151 527.6 L153 527 L155 526.4 L157 525.8 L159 525.3 L161 524.7 L163 524.1 L165 523.5 L167 522.9 L169 522.3 L171 521.7 L173 521.1 L175 520.5 L177 519.9 L179 519.3 L181 518.7 L183 518.1 L185 517.5 L187 516.9 L189 516.3 L191 515.7 L193 515.1 L195 514.4 L197 513.8 L199 513.2 L201 512.6 L203 512 L205 511.3 L207 510.7 L209 510.1 L211 509.5 L213 508.8 L215 508.2 L217 507.6 L219 506.9 L221 506.3 L223 505.7 L225 505 L227 504.4 L229 503.7 L231 503.1 L233 502.5 L235 501.8 L237 501.2 L239 500.5 L241 499.8 L243 499.2 L245 498.5 L247 497.9 L249 497.2 L251 496.5 L253 495.9 L255 495.2 L257 494.5 L259 493.9 L261 493.2 L263 492.5 L265 491.8 L267 491.1 L269 490.5 L271 489.8 L273 489.1 L275 488.4 L277 487.7 L279 487 L281 486.3 L283 485.6 L285 484.9 L287 484.2 L289 483.5 L291 482.8 L293 482.1 L295 481.4 L297 480.7 L299 479.9 L301 479.2 L303 478.5 L305 477.8 L307 477 L309 476.3 L311 475.6 L313 474.8 L315 474.1 L317 473.4 L319 472.6 L321 471.9 L323 471.1 L325 470.4 L327 469.6 L329 468.9 L331 468.1 L333 467.4 L335 466.6 L337 465.8 L339 465.1 L341 464.3 L343 463.5 L345 462.7 L347 462 L349 461.2 L351 460.4 L353 459.6 L355 458.8 L357 458 L359 457.2 L361 456.4 L363 455.6 L365 454.8 L367 454 L369 453.2 L371 452.4 L373 451.6 L375 450.8 L377 449.9 L379 449.1 L381 448.3 L383 447.5 L385 446.6 L387 445.8 L389 444.9 L391 444.1 L393 443.3 L395 442.4 L397 441.6 L399 440.7 L401 439.8 L403 439 L405 438.1 L407 437.2 L409 436.4 L411 435.5 L413 434.6 L415 433.7" stroke="#1b3149" stroke-width="1.3" fill="none" stroke-linejoin="round"/>
<path d="M31 583.3 L33 583 L35 582.8 L37 582.5 L39 582.2 L41 581.9 L43 581.6 L45 581.3 L47 581 L49 580.7 L51 580.4 L53 580 L55 579.7 L57 579.4 L59 579.1 L61 578.7 L63 578.4 L65 578 L67 577.7 L69 577.3 L71 577 L73 576.6 L75 576.2 L77 575.9 L79 575.5 L81 575.1 L83 574.7 L85 574.3 L87 573.9 L89 573.5 L91 573.1 L93 572.7 L95 572.3 L97 571.9 L99 571.5 L101 571 L103 570.6 L105 570.2 L107 569.7 L109 569.3 L111 568.8 L113 568.4 L115 567.9 L117 567.4 L119 567 L121 566.5 L123 566 L125 565.5 L127 565 L129 564.5 L131 564 L133 563.5 L135 563 L137 562.5 L139 562 L141 561.5 L143 560.9 L145 560.4 L147 559.9 L149 559.3 L151 558.8 L153 558.2 L155 557.7 L157 557.1 L159 556.5 L161 556 L163 555.4 L165 554.8 L167 554.2 L169 553.6 L171 553 L173 552.4 L175 551.8 L177 551.2 L179 550.6 L181 549.9 L183 549.3 L185 548.7 L187 548 L189 547.4 L191 546.7 L193 546.1 L195 545.4 L197 544.7 L199 544.1 L201 543.4 L203 542.7 L205 542 L207 541.3 L209 540.6 L211 539.9 L213 539.2 L215 538.5 L217 537.8 L219 537.1 L221 536.3 L223 535.6 L225 534.9 L227 534.1 L229 533.4 L231 532.6 L233 531.8 L235 531.1 L237 530.3 L239 529.5 L241 528.7 L243 527.9 L245 527.2 L247 526.3 L249 525.5 L251 524.7 L253 523.9 L255 523.1 L257 522.3 L259 521.4 L261 520.6 L263 519.7 L265 518.9 L267 518 L269 517.2 L271 516.3 L273 515.4 L275 514.6 L277 513.7 L279 512.8 L281 511.9 L283 511 L285 510.1 L287 509.2 L289 508.2 L291 507.3 L293 506.4 L295 505.5 L297 504.5 L299 503.6 L301 502.6 L303 501.6 L305 500.7 L307 499.7 L309 498.7 L311 497.8 L313 496.8 L315 495.8 L317 494.8 L319 493.8 L321 492.8 L323 491.7 L325 490.7 L327 489.7 L329 488.6 L331 487.6 L333 486.6 L335 485.5 L337 484.4 L339 483.4 L341 482.3 L343 481.2 L345 480.1 L347 479.1 L349 478 L351 476.9 L353 475.7 L355 474.6 L357 473.5 L359 472.4 L361 471.3 L363 470.1 L365 469 L367 467.8 L369 466.7 L371 465.5 L373 464.3 L375 463.2 L377 462 L379 460.8 L381 459.6 L383 458.4 L385 457.2 L387 456 L389 454.7 L391 453.5 L393 452.3 L395 451.1 L397 449.8 L399 448.6 L401 447.3 L403 446 L405 444.8 L407 443.5 L409 442.2 L411 440.9 L413 439.6 L415 438.3 L417 437 L419 435.7 L421 434.4 L421.6 434" stroke="#1b3149" stroke-width="1.3" fill="none" stroke-linejoin="round"/>
<path d="M31 583 L33 582.7 L35 582.5 L37 582.2 L39 581.9 L41 581.6 L43 581.3 L45 581 L47 580.7 L49 580.4 L51 580.1 L53 579.9 L55 579.6 L57 579.3 L59 579 L61 578.7 L63 578.4 L65 578.2 L67 577.9 L69 577.6 L71 577.3 L73 577 L75 576.8 L77 576.5 L79 576.2 L81 575.9 L83 575.6 L85 575.4 L87 575.1 L89 574.8 L91 574.5 L93 574.3 L95 574 L97 573.7 L99 573.4 L101 573.2 L103 572.9 L105 572.6 L107 572.3 L109 572 L111 571.8 L113 571.5 L115 571.2 L117 570.9 L119 570.7 L121 570.4 L123 570.1 L125 569.8 L127 569.5 L129 569.3 L131 569 L133 568.7 L135 568.4 L137 568.1 L139 567.9 L141 567.6 L143 567.3 L145 567 L147 566.7 L149 566.4 L151 566.1 L153 565.8 L155 565.6 L157 565.3 L159 565 L161 564.7 L163 564.4 L165 564.1 L167 563.8 L169 563.5 L171 563.2 L173 562.9 L175 562.6 L177 562.3 L179 562 L181 561.7 L183 561.4 L185 561.1 L187 560.8 L189 560.5 L191 560.2 L193 559.9 L195 559.5 L197 559.2 L199 558.9 L201 558.6 L203 558.3 L205 557.9 L207 557.6 L209 557.3 L211 557 L213 556.6 L215 556.3 L217 556 L219 555.6 L221 555.3 L223 555 L225 554.6 L227 554.3 L229 553.9 L231 553.6 L233 553.3 L235 552.9 L237 552.6 L239 552.2 L241 551.8 L243 551.5 L245 551.1 L247 550.8 L249 550.4 L251 550 L253 549.6 L255 549.3 L257 548.9 L259 548.5 L261 548.1 L263 547.8 L265 547.4 L267 547 L269 546.6 L271 546.2 L273 545.8 L275 545.4 L277 545 L279 544.6 L281 544.2 L283 543.8 L285 543.4 L287 542.9 L289 542.5 L291 542.1 L293 541.7 L295 541.2 L297 540.8 L299 540.4 L301 539.9 L303 539.5 L305 539 L307 538.6 L309 538.1 L311 537.7 L313 537.2 L315 536.8 L317 536.3 L319 535.8 L321 535.4 L323 534.9 L325 534.4 L327 533.9 L329 533.4 L331 532.9 L333 532.4 L335 531.9 L337 531.4 L339 530.9 L341 530.4 L343 529.9 L345 529.4 L347 528.9 L349 528.4 L351 527.8 L353 527.3 L355 526.8 L357 526.2 L359 525.7 L361 525.2 L363 524.6 L365 524.1 L367 523.5 L369 522.9 L371 522.4 L373 521.8 L375 521.2 L377 520.7 L379 520.1 L381 519.5 L383 518.9 L385 518.4 L387 517.8 L389 517.2 L391 516.6 L393 516 L395 515.4 L397 514.8 L399 514.1 L401 513.5 L403 512.9 L405 512.3 L407 511.7 L409 511 L411 510.4 L413 509.8 L415 509.1 L417 508.5 L419 507.8 L421 507.2 L423 506.5 L425 505.9 L427 505.2 L429 504.5 L431 503.9 L433 503.2 L435 502.5 L437 501.8 L439 501.1 L441 500.5 L443 499.8 L445 499.1 L447 498.4 L449 497.7 L451 497 L453 496.2 L455 495.5 L457 494.8 L459 494.1 L461 493.4 L463 492.6 L465 491.9 L467 491.2 L469 490.4 L471 489.7 L473 488.9 L475 488.2 L477 487.4 L479 486.7 L481 485.9 L483 485.2 L485 484.4 L487 483.6 L489 482.8 L491 482.1 L493 481.3 L495 480.5 L497 479.7 L499 478.9 L501 478.1 L503 477.3 L505 476.5 L507 475.7 L509 474.9 L511 474.1 L513 473.2 L515 472.4 L517 471.6 L519 470.7 L521 469.9 L523 469.1 L525 468.2 L527 467.4 L529 466.5 L531 465.7 L533 464.8 L535 464 L537 463.1 L539 462.2 L541 461.3 L543 460.5 L545 459.6 L547 458.7 L549 457.8 L551 456.9 L553 456 L555 455.1 L557 454.2 L559 453.3 L561 452.4 L563 451.5 L565 450.6 L567 449.7 L569 448.7 L571 447.8 L573 446.9 L575 445.9 L577 445 L579 444 L581 443.1 L583 442.1 L585 441.2 L587 440.2 L589 439.3 L591 438.3 L593 437.3 L595 436.4 L597 435.4 L599 434.4" stroke="#1b3149" stroke-width="1.1" fill="none" stroke-linejoin="round"/>
<path d="M31 586.2 L33 586.2 L35 586.3 L37 586.3 L39 586.3 L41 586.3 L43 586.3 L45 586.3 L47 586.2 L49 586.2 L51 586.2 L53 586.2 L55 586.2 L57 586.1 L59 586.1 L61 586.1 L63 586 L65 586 L67 585.9 L69 585.9 L71 585.8 L73 585.8 L75 585.7 L77 585.6 L79 585.6 L81 585.5 L83 585.4 L85 585.3 L87 585.3 L89 585.2 L91 585.1 L93 585 L95 584.9 L97 584.8 L99 584.7 L101 584.6 L103 584.5 L105 584.3 L107 584.2 L109 584.1 L111 584 L113 583.8 L115 583.7 L117 583.5 L119 583.4 L121 583.3 L123 583.1 L125 583 L127 582.8 L129 582.6 L131 582.5 L133 582.3 L135 582.1 L137 581.9 L139 581.8 L141 581.6 L143 581.4 L145 581.2 L147 581 L149 580.8 L151 580.6 L153 580.4 L155 580.2 L157 579.9 L159 579.7 L161 579.5 L163 579.3 L165 579 L167 578.8 L169 578.6 L171 578.3 L173 578.1 L175 577.8 L177 577.6 L179 577.3 L181 577.1 L183 576.8 L185 576.5 L187 576.2 L189 576 L191 575.7 L193 575.4 L195 575.1 L197 574.8 L199 574.5 L201 574.2 L203 573.9 L205 573.6 L207 573.3 L209 573 L211 572.7 L213 572.3 L215 572 L217 571.7 L219 571.3 L221 571 L223 570.7 L225 570.3 L227 570 L229 569.6 L231 569.2 L233 568.9 L235 568.5 L237 568.1 L239 567.8 L241 567.4 L243 567 L245 566.6 L247 566.2 L249 565.8 L251 565.4 L253 565 L255 564.6 L257 564.2 L259 563.8 L261 563.4 L263 563 L265 562.6 L267 562.1 L269 561.7 L271 561.3 L273 560.8 L275 560.4 L277 559.9 L279 559.5 L281 559 L283 558.5 L285 558.1 L287 557.6 L289 557.1 L291 556.7 L293 556.2 L295 555.7 L297 555.2 L299 554.7 L301 554.2 L303 553.7 L305 553.2 L307 552.7 L309 552.2 L311 551.7 L313 551.2 L315 550.6 L317 550.1 L319 549.6 L321 549 L323 548.5 L325 547.9 L327 547.4 L329 546.8 L331 546.3 L333 545.7 L335 545.2 L337 544.6 L339 544 L341 543.4 L343 542.9 L345 542.3 L347 541.7 L349 541.1 L351 540.5 L353 539.9 L355 539.3 L357 538.7 L359 538.1 L361 537.5 L363 536.8 L365 536.2 L367 535.6 L369 535 L371 534.3 L373 533.7 L375 533 L377 532.4 L379 531.7 L381 531.1 L383 530.4 L385 529.7 L387 529.1 L389 528.4 L391 527.7 L393 527 L395 526.4 L397 525.7 L399 525 L401 524.3 L403 523.6 L405 522.9 L407 522.1 L409 521.4 L411 520.7 L413 520 L415 519.3 L417 518.5 L419 517.8 L421 517.1 L423 516.3 L425 515.6 L427 514.8 L429 514.1 L431 513.3 L433 512.5 L435 511.8 L437 511 L439 510.2 L441 509.4 L443 508.6 L445 507.9 L447 507.1 L449 506.3 L451 505.5 L453 504.7 L455 503.9 L457 503 L459 502.2 L461 501.4 L463 500.6 L465 499.7 L467 498.9 L469 498.1 L471 497.2 L473 496.4 L475 495.5 L477 494.7 L479 493.8 L481 492.9 L483 492.1 L485 491.2 L487 490.3 L489 489.4 L491 488.6 L493 487.7 L495 486.8 L497 485.9 L499 485 L501 484.1 L503 483.2 L505 482.2 L507 481.3 L509 480.4 L511 479.5 L513 478.5 L515 477.6 L517 476.7 L519 475.7 L521 474.8 L523 473.8 L525 472.9 L527 471.9 L529 470.9 L531 470 L533 469 L535 468 L537 467 L539 466 L541 465.1 L543 464.1 L545 463.1 L547 462.1 L549 461 L551 460 L553 459 L555 458 L557 457 L559 455.9 L561 454.9 L563 453.9 L565 452.8 L567 451.8 L569 450.7 L571 449.7 L573 448.6 L575 447.6 L577 446.5 L579 445.4 L581 444.3 L583 443.3 L585 442.2 L587 441.1 L589 440 L591 438.9 L593 437.8 L595 436.7 L597 435.6 L599 434.5 L599.5 434.2" stroke="#1b3149" stroke-width="1.8" fill="none" stroke-linejoin="round"/>
<path d="M31 588.4 L48 586 L306.6 585.7" stroke="#8a9099" stroke-width="1.2" fill="none"/>
<path d="M31 0V382.8 M750.1 0V382.8 M30 381.8H751 M31 400V603.5 M750.1 400V603.5 M30 603H751" stroke="#787878" stroke-width="2" fill="none"/>
<path d="M31 400.2H750" stroke="#8a8a8a" stroke-width="1.4" fill="none"/>
<path d="M31 0.5H750" stroke="#7a7a7a" stroke-width="1" fill="none"/>
<path d="M26.5 381.5H31 M26.5 343.4H31 M26.5 305.2H31 M26.5 267.1H31 M26.5 228.9H31 M26.5 190.8H31 M26.5 152.6H31 M26.5 114.4H31 M26.5 76.3H31 M750 381.5H754 M750 343.4H754 M750 305.2H754 M750 267.1H754 M750 228.9H754 M750 190.8H754 M750 152.6H754 M750 114.4H754 M750 76.3H754 M750 38.2H754 M31 382V385.5 M64.2 382V385.5 M97.5 382V385.5 M130.7 382V385.5 M164 382V385.5 M197.2 382V385.5 M230.4 382V385.5 M263.7 382V385.5 M296.9 382V385.5 M330.2 382V385.5 M363.4 382V385.5 M396.6 382V385.5 M429.9 382V385.5 M463.1 382V385.5 M496.4 382V385.5 M529.6 382V385.5 M562.8 382V385.5 M596.1 382V385.5 M629.3 382V385.5 M662.6 382V385.5 M695.8 382V385.5 M26.5 602.5H31 M26.5 568.3H31 M26.5 534.1H31 M26.5 499.9H31 M26.5 465.7H31 M26.5 431.5H31" stroke="#787878" stroke-width="1" fill="none"/>
<path d="M624.5 0V16.5H750" stroke="#555" stroke-width="1.2" fill="none"/>
<g font-family="Liberation Sans, sans-serif"><text x="23.4" y="384.9" text-anchor="end" font-size="9.2" fill="#111" letter-spacing="0.8">0</text><text x="23.4" y="346.8" text-anchor="end" font-size="9.2" fill="#111" letter-spacing="0.8">1</text><text x="23.4" y="308.6" text-anchor="end" font-size="9.2" fill="#111" letter-spacing="0.8">2</text><text x="23.4" y="270.4" text-anchor="end" font-size="9.2" fill="#111" letter-spacing="0.8">3</text><text x="23.4" y="232.3" text-anchor="end" font-size="9.2" fill="#111" letter-spacing="0.8">4</text><text x="23.4" y="194.2" text-anchor="end" font-size="9.2" fill="#111" letter-spacing="0.8">5</text><text x="23.4" y="156" text-anchor="end" font-size="9.2" fill="#111" letter-spacing="0.8">6</text><text x="23.4" y="117.8" text-anchor="end" font-size="9.2" fill="#111" letter-spacing="0.8">7</text><text x="23.4" y="79.7" text-anchor="end" font-size="9.2" fill="#111" letter-spacing="0.8">8</text><text x="757.2" y="385.1" text-anchor="start" font-size="9.2" fill="#111" letter-spacing="0.8">0</text><text x="757.2" y="347" text-anchor="start" font-size="9.2" fill="#111" letter-spacing="0.8">10</text><text x="757.2" y="308.8" text-anchor="start" font-size="9.2" fill="#111" letter-spacing="0.8">20</text><text x="757.2" y="270.7" text-anchor="start" font-size="9.2" fill="#111" letter-spacing="0.8">30</text><text x="757.2" y="232.5" text-anchor="start" font-size="9.2" fill="#111" letter-spacing="0.8">40</text><text x="757.2" y="194.3" text-anchor="start" font-size="9.2" fill="#111" letter-spacing="0.8">50</text><text x="757.2" y="156.2" text-anchor="start" font-size="9.2" fill="#111" letter-spacing="0.8">60</text><text x="757.2" y="118" text-anchor="start" font-size="9.2" fill="#111" letter-spacing="0.8">70</text><text x="757.2" y="79.9" text-anchor="start" font-size="9.2" fill="#111" letter-spacing="0.8">80</text><text x="757.2" y="41.8" text-anchor="start" font-size="9.2" fill="#111" letter-spacing="0.8">90</text><text x="30.9" y="394.6" text-anchor="middle" font-size="9.2" fill="#111" letter-spacing="0.8">0</text><text x="64.1" y="394.6" text-anchor="middle" font-size="9.2" fill="#111" letter-spacing="0.8">0,2</text><text x="97.4" y="394.6" text-anchor="middle" font-size="9.2" fill="#111" letter-spacing="0.8">0,4</text><text x="130.6" y="394.6" text-anchor="middle" font-size="9.2" fill="#111" letter-spacing="0.8">0,6</text><text x="163.9" y="394.6" text-anchor="middle" font-size="9.2" fill="#111" letter-spacing="0.8">0,8</text><text x="197.1" y="394.6" text-anchor="middle" font-size="9.2" fill="#111" letter-spacing="0.8">1,0</text><text x="230.3" y="394.6" text-anchor="middle" font-size="9.2" fill="#111" letter-spacing="0.8">1,2</text><text x="263.6" y="394.6" text-anchor="middle" font-size="9.2" fill="#111" letter-spacing="0.8">1,4</text><text x="296.8" y="394.6" text-anchor="middle" font-size="9.2" fill="#111" letter-spacing="0.8">1,6</text><text x="330.1" y="394.6" text-anchor="middle" font-size="9.2" fill="#111" letter-spacing="0.8">1,8</text><text x="363.3" y="394.6" text-anchor="middle" font-size="9.2" fill="#111" letter-spacing="0.8">2,0</text><text x="396.5" y="394.6" text-anchor="middle" font-size="9.2" fill="#111" letter-spacing="0.8">2,2</text><text x="429.8" y="394.6" text-anchor="middle" font-size="9.2" fill="#111" letter-spacing="0.8">2,4</text><text x="463" y="394.6" text-anchor="middle" font-size="9.2" fill="#111" letter-spacing="0.8">2,6</text><text x="496.3" y="394.6" text-anchor="middle" font-size="9.2" fill="#111" letter-spacing="0.8">2,8</text><text x="529.5" y="394.6" text-anchor="middle" font-size="9.2" fill="#111" letter-spacing="0.8">3,0</text><text x="562.7" y="394.6" text-anchor="middle" font-size="9.2" fill="#111" letter-spacing="0.8">3,2</text><text x="596" y="394.6" text-anchor="middle" font-size="9.2" fill="#111" letter-spacing="0.8">3,4</text><text x="629.2" y="394.6" text-anchor="middle" font-size="9.2" fill="#111" letter-spacing="0.8">3,6</text><text x="662.5" y="394.6" text-anchor="middle" font-size="9.2" fill="#111" letter-spacing="0.8">3,8</text><text x="695.7" y="394.6" text-anchor="middle" font-size="9.2" fill="#111" letter-spacing="0.8">4,0</text><text x="24.3" y="605.8" text-anchor="end" font-size="9.2" fill="#111" letter-spacing="0.8">0</text><text x="24.3" y="571.6" text-anchor="end" font-size="9.2" fill="#111" letter-spacing="0.8">0,01</text><text x="24.3" y="537.4" text-anchor="end" font-size="9.2" fill="#111" letter-spacing="0.8">0,02</text><text x="24.3" y="503.2" text-anchor="end" font-size="9.2" fill="#111" letter-spacing="0.8">0,03</text><text x="24.3" y="469" text-anchor="end" font-size="9.2" fill="#111" letter-spacing="0.8">0,04</text><text x="24.3" y="434.8" text-anchor="end" font-size="9.2" fill="#111" letter-spacing="0.8">0,05</text><text x="20.2" y="9.3" text-anchor="middle" font-size="9.2" fill="#111" letter-spacing="0.8">H</text><text x="20" y="22.3" text-anchor="middle" font-size="9.2" fill="#111" letter-spacing="0.8">[м]</text><text x="762.7" y="9.8" text-anchor="middle" font-size="9.2" fill="#111" letter-spacing="0.8">eta</text><text x="762.9" y="22.3" text-anchor="middle" font-size="9.2" fill="#111" letter-spacing="0.8">[%]</text><text x="16.4" y="410.3" text-anchor="middle" font-size="9.2" fill="#111" letter-spacing="0.8">P1</text><text x="15.4" y="422.3" text-anchor="middle" font-size="9.2" fill="#111" letter-spacing="0.8">[кВт]</text><text x="711.3" y="394.9" text-anchor="start" font-size="9.2" fill="#111" textLength="34.4" lengthAdjust="spacing">Q [м³/ч]</text><text x="628.2" y="10.9" text-anchor="start" font-size="10.4" fill="#111" textLength="119.4" lengthAdjust="spacing">ALPHA2 25-80 180, 50Hz</text><text x="580.2" y="30" text-anchor="start" font-size="10.2" fill="#111" textLength="163.6" lengthAdjust="spacing">Перекачиваемая жидкость = Вода</text><text x="580.6" y="41.8" text-anchor="start" font-size="10.2" fill="#111" textLength="112" lengthAdjust="spacing">Темп. жидкости = 60 °C</text><text x="580.2" y="53.8" text-anchor="start" font-size="10.2" fill="#111" textLength="112.5" lengthAdjust="spacing">Плотность = 983.2 кг/м³</text></g>
</svg>
</body></html>
